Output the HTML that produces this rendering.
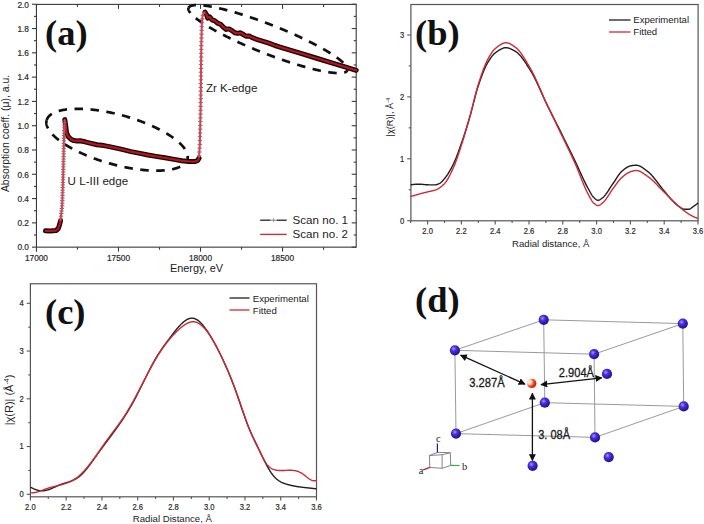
<!DOCTYPE html>
<html><head><meta charset="utf-8"><style>
html,body{margin:0;padding:0;background:#fff;width:704px;height:524px;overflow:hidden;font-family:"Liberation Sans",sans-serif}
svg{display:block}
</style></head><body>
<svg width="704" height="524" viewBox="0 0 704 524">
<rect width="704" height="524" fill="#fff"/>
<rect x="36.45" y="4.4" width="319.75" height="242.75" fill="none" stroke="#3a3a3a" stroke-width="1.1"/>
<line x1="31.95" y1="247.15" x2="36.45" y2="247.15" stroke="#3a3a3a" stroke-width="1.1" />
<line x1="351.7" y1="247.15" x2="356.2" y2="247.15" stroke="#3a3a3a" stroke-width="1.1" />
<text x="29" y="250.45" font-size="9.0" text-anchor="end" fill="#2a2a2a" font-family='"Liberation Sans", sans-serif' font-weight="normal" textLength="11.54" lengthAdjust="spacingAndGlyphs" stroke="#2a2a2a" stroke-width="0.2">0.0</text>
<line x1="33.95" y1="235" x2="36.45" y2="235" stroke="#3a3a3a" stroke-width="1.1" />
<line x1="353.7" y1="235" x2="356.2" y2="235" stroke="#3a3a3a" stroke-width="1.1" />
<line x1="31.95" y1="222.86" x2="36.45" y2="222.86" stroke="#3a3a3a" stroke-width="1.1" />
<line x1="351.7" y1="222.86" x2="356.2" y2="222.86" stroke="#3a3a3a" stroke-width="1.1" />
<text x="29" y="226.16" font-size="9.0" text-anchor="end" fill="#2a2a2a" font-family='"Liberation Sans", sans-serif' font-weight="normal" textLength="11.54" lengthAdjust="spacingAndGlyphs" stroke="#2a2a2a" stroke-width="0.2">0.2</text>
<line x1="33.95" y1="210.72" x2="36.45" y2="210.72" stroke="#3a3a3a" stroke-width="1.1" />
<line x1="353.7" y1="210.72" x2="356.2" y2="210.72" stroke="#3a3a3a" stroke-width="1.1" />
<line x1="31.95" y1="198.57" x2="36.45" y2="198.57" stroke="#3a3a3a" stroke-width="1.1" />
<line x1="351.7" y1="198.57" x2="356.2" y2="198.57" stroke="#3a3a3a" stroke-width="1.1" />
<text x="29" y="201.87" font-size="9.0" text-anchor="end" fill="#2a2a2a" font-family='"Liberation Sans", sans-serif' font-weight="normal" textLength="11.54" lengthAdjust="spacingAndGlyphs" stroke="#2a2a2a" stroke-width="0.2">0.4</text>
<line x1="33.95" y1="186.43" x2="36.45" y2="186.43" stroke="#3a3a3a" stroke-width="1.1" />
<line x1="353.7" y1="186.43" x2="356.2" y2="186.43" stroke="#3a3a3a" stroke-width="1.1" />
<line x1="31.95" y1="174.28" x2="36.45" y2="174.28" stroke="#3a3a3a" stroke-width="1.1" />
<line x1="351.7" y1="174.28" x2="356.2" y2="174.28" stroke="#3a3a3a" stroke-width="1.1" />
<text x="29" y="177.58" font-size="9.0" text-anchor="end" fill="#2a2a2a" font-family='"Liberation Sans", sans-serif' font-weight="normal" textLength="11.54" lengthAdjust="spacingAndGlyphs" stroke="#2a2a2a" stroke-width="0.2">0.6</text>
<line x1="33.95" y1="162.13" x2="36.45" y2="162.13" stroke="#3a3a3a" stroke-width="1.1" />
<line x1="353.7" y1="162.13" x2="356.2" y2="162.13" stroke="#3a3a3a" stroke-width="1.1" />
<line x1="31.95" y1="149.99" x2="36.45" y2="149.99" stroke="#3a3a3a" stroke-width="1.1" />
<line x1="351.7" y1="149.99" x2="356.2" y2="149.99" stroke="#3a3a3a" stroke-width="1.1" />
<text x="29" y="153.29" font-size="9.0" text-anchor="end" fill="#2a2a2a" font-family='"Liberation Sans", sans-serif' font-weight="normal" textLength="11.54" lengthAdjust="spacingAndGlyphs" stroke="#2a2a2a" stroke-width="0.2">0.8</text>
<line x1="33.95" y1="137.84" x2="36.45" y2="137.84" stroke="#3a3a3a" stroke-width="1.1" />
<line x1="353.7" y1="137.84" x2="356.2" y2="137.84" stroke="#3a3a3a" stroke-width="1.1" />
<line x1="31.95" y1="125.7" x2="36.45" y2="125.7" stroke="#3a3a3a" stroke-width="1.1" />
<line x1="351.7" y1="125.7" x2="356.2" y2="125.7" stroke="#3a3a3a" stroke-width="1.1" />
<text x="29" y="129" font-size="9.0" text-anchor="end" fill="#2a2a2a" font-family='"Liberation Sans", sans-serif' font-weight="normal" textLength="11.54" lengthAdjust="spacingAndGlyphs" stroke="#2a2a2a" stroke-width="0.2">1.0</text>
<line x1="33.95" y1="113.55" x2="36.45" y2="113.55" stroke="#3a3a3a" stroke-width="1.1" />
<line x1="353.7" y1="113.55" x2="356.2" y2="113.55" stroke="#3a3a3a" stroke-width="1.1" />
<line x1="31.95" y1="101.41" x2="36.45" y2="101.41" stroke="#3a3a3a" stroke-width="1.1" />
<line x1="351.7" y1="101.41" x2="356.2" y2="101.41" stroke="#3a3a3a" stroke-width="1.1" />
<text x="29" y="104.71" font-size="9.0" text-anchor="end" fill="#2a2a2a" font-family='"Liberation Sans", sans-serif' font-weight="normal" textLength="11.54" lengthAdjust="spacingAndGlyphs" stroke="#2a2a2a" stroke-width="0.2">1.2</text>
<line x1="33.95" y1="89.26" x2="36.45" y2="89.26" stroke="#3a3a3a" stroke-width="1.1" />
<line x1="353.7" y1="89.26" x2="356.2" y2="89.26" stroke="#3a3a3a" stroke-width="1.1" />
<line x1="31.95" y1="77.12" x2="36.45" y2="77.12" stroke="#3a3a3a" stroke-width="1.1" />
<line x1="351.7" y1="77.12" x2="356.2" y2="77.12" stroke="#3a3a3a" stroke-width="1.1" />
<text x="29" y="80.42" font-size="9.0" text-anchor="end" fill="#2a2a2a" font-family='"Liberation Sans", sans-serif' font-weight="normal" textLength="11.54" lengthAdjust="spacingAndGlyphs" stroke="#2a2a2a" stroke-width="0.2">1.4</text>
<line x1="33.95" y1="64.97" x2="36.45" y2="64.97" stroke="#3a3a3a" stroke-width="1.1" />
<line x1="353.7" y1="64.97" x2="356.2" y2="64.97" stroke="#3a3a3a" stroke-width="1.1" />
<line x1="31.95" y1="52.83" x2="36.45" y2="52.83" stroke="#3a3a3a" stroke-width="1.1" />
<line x1="351.7" y1="52.83" x2="356.2" y2="52.83" stroke="#3a3a3a" stroke-width="1.1" />
<text x="29" y="56.13" font-size="9.0" text-anchor="end" fill="#2a2a2a" font-family='"Liberation Sans", sans-serif' font-weight="normal" textLength="11.54" lengthAdjust="spacingAndGlyphs" stroke="#2a2a2a" stroke-width="0.2">1.6</text>
<line x1="33.95" y1="40.68" x2="36.45" y2="40.68" stroke="#3a3a3a" stroke-width="1.1" />
<line x1="353.7" y1="40.68" x2="356.2" y2="40.68" stroke="#3a3a3a" stroke-width="1.1" />
<line x1="31.95" y1="28.54" x2="36.45" y2="28.54" stroke="#3a3a3a" stroke-width="1.1" />
<line x1="351.7" y1="28.54" x2="356.2" y2="28.54" stroke="#3a3a3a" stroke-width="1.1" />
<text x="29" y="31.84" font-size="9.0" text-anchor="end" fill="#2a2a2a" font-family='"Liberation Sans", sans-serif' font-weight="normal" textLength="11.54" lengthAdjust="spacingAndGlyphs" stroke="#2a2a2a" stroke-width="0.2">1.8</text>
<line x1="33.95" y1="16.39" x2="36.45" y2="16.39" stroke="#3a3a3a" stroke-width="1.1" />
<line x1="353.7" y1="16.39" x2="356.2" y2="16.39" stroke="#3a3a3a" stroke-width="1.1" />
<line x1="31.95" y1="4.25" x2="36.45" y2="4.25" stroke="#3a3a3a" stroke-width="1.1" />
<line x1="351.7" y1="4.25" x2="356.2" y2="4.25" stroke="#3a3a3a" stroke-width="1.1" />
<text x="29" y="7.55" font-size="9.0" text-anchor="end" fill="#2a2a2a" font-family='"Liberation Sans", sans-serif' font-weight="normal" textLength="11.54" lengthAdjust="spacingAndGlyphs" stroke="#2a2a2a" stroke-width="0.2">2.0</text>
<line x1="36.45" y1="247.15" x2="36.45" y2="251.65" stroke="#3a3a3a" stroke-width="1.1" />
<line x1="36.45" y1="4.4" x2="36.45" y2="8.9" stroke="#3a3a3a" stroke-width="1.1" />
<text x="36.45" y="261" font-size="9.0" text-anchor="middle" fill="#2a2a2a" font-family='"Liberation Sans", sans-serif' font-weight="normal" textLength="23.07" lengthAdjust="spacingAndGlyphs" stroke="#2a2a2a" stroke-width="0.2">17000</text>
<line x1="77.47" y1="247.15" x2="77.47" y2="249.65" stroke="#3a3a3a" stroke-width="1.1" />
<line x1="77.47" y1="4.4" x2="77.47" y2="6.9" stroke="#3a3a3a" stroke-width="1.1" />
<line x1="118.48" y1="247.15" x2="118.48" y2="251.65" stroke="#3a3a3a" stroke-width="1.1" />
<line x1="118.48" y1="4.4" x2="118.48" y2="8.9" stroke="#3a3a3a" stroke-width="1.1" />
<text x="118.48" y="261" font-size="9.0" text-anchor="middle" fill="#2a2a2a" font-family='"Liberation Sans", sans-serif' font-weight="normal" textLength="23.07" lengthAdjust="spacingAndGlyphs" stroke="#2a2a2a" stroke-width="0.2">17500</text>
<line x1="159.5" y1="247.15" x2="159.5" y2="249.65" stroke="#3a3a3a" stroke-width="1.1" />
<line x1="159.5" y1="4.4" x2="159.5" y2="6.9" stroke="#3a3a3a" stroke-width="1.1" />
<line x1="200.51" y1="247.15" x2="200.51" y2="251.65" stroke="#3a3a3a" stroke-width="1.1" />
<line x1="200.51" y1="4.4" x2="200.51" y2="8.9" stroke="#3a3a3a" stroke-width="1.1" />
<text x="200.51" y="261" font-size="9.0" text-anchor="middle" fill="#2a2a2a" font-family='"Liberation Sans", sans-serif' font-weight="normal" textLength="23.07" lengthAdjust="spacingAndGlyphs" stroke="#2a2a2a" stroke-width="0.2">18000</text>
<line x1="241.53" y1="247.15" x2="241.53" y2="249.65" stroke="#3a3a3a" stroke-width="1.1" />
<line x1="241.53" y1="4.4" x2="241.53" y2="6.9" stroke="#3a3a3a" stroke-width="1.1" />
<line x1="282.54" y1="247.15" x2="282.54" y2="251.65" stroke="#3a3a3a" stroke-width="1.1" />
<line x1="282.54" y1="4.4" x2="282.54" y2="8.9" stroke="#3a3a3a" stroke-width="1.1" />
<text x="282.54" y="261" font-size="9.0" text-anchor="middle" fill="#2a2a2a" font-family='"Liberation Sans", sans-serif' font-weight="normal" textLength="23.07" lengthAdjust="spacingAndGlyphs" stroke="#2a2a2a" stroke-width="0.2">18500</text>
<line x1="323.56" y1="247.15" x2="323.56" y2="249.65" stroke="#3a3a3a" stroke-width="1.1" />
<line x1="323.56" y1="4.4" x2="323.56" y2="6.9" stroke="#3a3a3a" stroke-width="1.1" />
<text x="196.5" y="271.6" font-size="10.9" text-anchor="middle" fill="#222" font-family='"Liberation Sans", sans-serif' font-weight="normal" >Energy, eV</text>
<text transform="translate(9.2,133.5) rotate(-90)" x="0" y="0" font-size="10.45" text-anchor="middle" fill="#222" font-family='"Liberation Sans", sans-serif'>Absorption coeff. (&#956;), a.u.</text>
<polyline points="46.7,120.13 46.79,119.82 46.9,119.51 47.01,119.21 47.14,118.91 47.28,118.61 47.44,118.32 47.6,118.03 47.78,117.74 47.97,117.46 48.17,117.18 48.38,116.9 48.61,116.63 48.84,116.36 49.09,116.1 49.35,115.84 49.62,115.59 49.9,115.33 50.2,115.09 50.5,114.84 50.82,114.61 51.15,114.37 51.49,114.14 51.84,113.92 52.2,113.7 52.57,113.48 52.96,113.27 53.35,113.06 53.76,112.86 54.18,112.66 54.61,112.46 55.04,112.28 55.49,112.09 55.95,111.91 56.42,111.74 56.9,111.57 57.39,111.4 57.89,111.24 58.41,111.09 58.93,110.94 59.46,110.79 60,110.65 60.55,110.51 61.11,110.38 61.68,110.26 62.26,110.14 62.85,110.02 63.45,109.91 64.06,109.81 64.67,109.71 65.3,109.61 65.93,109.52 66.58,109.44 67.23,109.36 67.89,109.28 68.56,109.21 69.23,109.15 69.92,109.09 70.61,109.04 71.31,108.99 72.02,108.95 72.74,108.91 73.46,108.88 74.2,108.85 74.94,108.83 75.68,108.81 76.44,108.8 77.2,108.79 77.96,108.79 78.74,108.8 79.52,108.81 80.31,108.82 81.1,108.84 81.9,108.87 82.7,108.9 83.52,108.94 84.33,108.98 85.16,109.03 85.98,109.08 86.82,109.14 87.66,109.2 88.5,109.27 89.35,109.34 90.2,109.42 91.06,109.5 91.92,109.59 92.79,109.69 93.66,109.79 94.54,109.89 95.42,110 96.3,110.11 97.18,110.23 98.07,110.36 98.97,110.49 99.86,110.62 100.76,110.76 101.66,110.91 102.57,111.06 103.47,111.21 104.38,111.37 105.3,111.53 106.21,111.7 107.12,111.88 108.04,112.06 108.96,112.24 109.88,112.43 110.8,112.62 111.72,112.82 112.65,113.02 113.57,113.23 114.49,113.44 115.42,113.65 116.34,113.87 117.27,114.1 118.19,114.33 119.12,114.56 120.04,114.8 120.97,115.04 121.89,115.29 122.81,115.54 123.74,115.79 124.66,116.05 125.58,116.31 126.49,116.58 127.41,116.85 128.32,117.12 129.24,117.4 130.15,117.68 131.06,117.97 131.96,118.26 132.86,118.55 133.76,118.85 134.66,119.15 135.56,119.46 136.45,119.76 137.34,120.07 138.22,120.39 139.1,120.71 139.98,121.03 140.85,121.35 141.72,121.68 142.59,122.01 143.45,122.34 144.3,122.68 145.16,123.02 146,123.36 146.84,123.7 147.68,124.05 148.51,124.4 149.34,124.76 150.16,125.11 150.97,125.47 151.78,125.83 152.59,126.19 153.38,126.56 154.17,126.93 154.96,127.3 155.74,127.67 156.51,128.04 157.27,128.42 158.03,128.8 158.78,129.18 159.52,129.56 160.26,129.94 160.99,130.33 161.71,130.71 162.42,131.1 163.13,131.49 163.83,131.88 164.52,132.27 165.2,132.67 165.87,133.06 166.54,133.46 167.19,133.85 167.84,134.25 168.48,134.65 169.11,135.05 169.73,135.45 170.35,135.85 170.95,136.26 171.54,136.66 172.13,137.06 172.71,137.47 173.27,137.87 173.83,138.27 174.37,138.68 174.91,139.08 175.44,139.49 175.95,139.89 176.46,140.3 176.96,140.7 177.44,141.11 177.92,141.51 178.39,141.92 178.84,142.32 179.29,142.72 179.72,143.13 180.14,143.53 180.56,143.93 180.96,144.33 181.35,144.73 181.73,145.13 182.1,145.53 182.45,145.93 182.8,146.32 183.13,146.72 183.46,147.11 183.77,147.5 184.07,147.89 184.36,148.28 184.64,148.67 184.9,149.06 185.16,149.44 185.4,149.83 185.63,150.21 185.85,150.59 186.06,150.97 186.25,151.35 186.44,151.72 186.61,152.09 186.77,152.46 186.92,152.83 187.05,153.2 187.18,153.56 187.29,153.92 187.39,154.28 187.48,154.63 187.56,154.99 187.62,155.34 187.67,155.69 187.71,156.03 187.74,156.38 187.75,156.72 187.76,157.05 187.75,157.39 187.73,157.72 187.7,158.05 187.65,158.37 187.59,158.69 187.52,159.01 187.44,159.33" fill="none" stroke="#111" stroke-width="2.7" stroke-dasharray="8.5 7.5" stroke-dashoffset="0.25"/>
<polyline points="187.44,159.33 187.35,159.64 187.24,159.95 187.13,160.25 187,160.55 186.86,160.85 186.7,161.14 186.54,161.43 186.36,161.72 186.17,162 185.97,162.28 185.76,162.56 185.53,162.83 185.3,163.1 185.05,163.36 184.79,163.62 184.52,163.87 184.24,164.13 183.94,164.37 183.64,164.62 183.32,164.85 182.99,165.09 182.65,165.32 182.3,165.54 181.94,165.76 181.57,165.98 181.18,166.19 180.79,166.4 180.38,166.6 179.96,166.8 179.53,167 179.1,167.18 178.65,167.37 178.19,167.55 177.72,167.72 177.24,167.89 176.75,168.06 176.25,168.22 175.73,168.37 175.21,168.52 174.68,168.67 174.14,168.81 173.59,168.95 173.03,169.08 172.46,169.2 171.88,169.32 171.29,169.44 170.69,169.55 170.08,169.65 169.47,169.75 168.84,169.85 168.21,169.94 167.56,170.02 166.91,170.1 166.25,170.18 165.58,170.25 164.91,170.31 164.22,170.37 163.53,170.42 162.83,170.47 162.12,170.51 161.4,170.55 160.68,170.58 159.94,170.61 159.2,170.63 158.46,170.65 157.7,170.66 156.94,170.67 156.18,170.67 155.4,170.66 154.62,170.65 153.83,170.64 153.04,170.62 152.24,170.59 151.44,170.56 150.62,170.52 149.81,170.48 148.98,170.43 148.16,170.38 147.32,170.32 146.48,170.26 145.64,170.19 144.79,170.12 143.94,170.04 143.08,169.96 142.22,169.87 141.35,169.77 140.48,169.67 139.6,169.57 138.72,169.46 137.84,169.35 136.96,169.23 136.07,169.1 135.17,168.97 134.28,168.84 133.38,168.7 132.48,168.55 131.57,168.4 130.67,168.25 129.76,168.09 128.84,167.93 127.93,167.76 127.02,167.58 126.1,167.4 125.18,167.22 124.26,167.03 123.34,166.84 122.42,166.64 121.49,166.44 120.57,166.23 119.65,166.02 118.72,165.81 117.8,165.59 116.87,165.36 115.95,165.13 115.02,164.9 114.1,164.66 113.17,164.42 112.25,164.17 111.33,163.92 110.4,163.67 109.48,163.41 108.56,163.15 107.65,162.88 106.73,162.61 105.82,162.34 104.9,162.06 103.99,161.78 103.08,161.49 102.18,161.2 101.28,160.91 100.38,160.61 99.48,160.31 98.58,160 97.69,159.7 96.8,159.39 95.92,159.07 95.04,158.75 94.16,158.43 93.29,158.11 92.42,157.78 91.55,157.45 90.69,157.12 89.84,156.78 88.98,156.44 88.14,156.1 87.3,155.76 86.46,155.41 85.63,155.06 84.8,154.7 83.98,154.35 83.17,153.99 82.36,153.63 81.55,153.27 80.76,152.9 79.97,152.53 79.18,152.16 78.4,151.79 77.63,151.42 76.87,151.04 76.11,150.66 75.36,150.28 74.62,149.9 73.88,149.52 73.15,149.13 72.43,148.75 71.72,148.36 71.01,147.97 70.31,147.58 69.62,147.19 68.94,146.79 68.27,146.4 67.6,146 66.95,145.61 66.3,145.21 65.66,144.81 65.03,144.41 64.41,144.01 63.79,143.61 63.19,143.2 62.6,142.8 62.01,142.4 61.43,141.99 60.87,141.59 60.31,141.19 59.77,140.78 59.23,140.38 58.7,139.97 58.19,139.57 57.68,139.16 57.18,138.76 56.7,138.35 56.22,137.95 55.75,137.54 55.3,137.14 54.85,136.74 54.42,136.33 54,135.93 53.58,135.53 53.18,135.13 52.79,134.73 52.41,134.33 52.04,133.93 51.69,133.53 51.34,133.14 51.01,132.74 50.68,132.35 50.37,131.96 50.07,131.57 49.78,131.18 49.5,130.79 49.24,130.4 48.98,130.02 48.74,129.63 48.51,129.25 48.29,128.87 48.08,128.49 47.89,128.11 47.7,127.74 47.53,127.37 47.37,127 47.22,126.63 47.09,126.26 46.96,125.9 46.85,125.54 46.75,125.18 46.66,124.83 46.58,124.47 46.52,124.12 46.47,123.77 46.43,123.43 46.4,123.08 46.39,122.74 46.38,122.41 46.39,122.07 46.41,121.74 46.44,121.41 46.49,121.09 46.55,120.77 46.62,120.45 46.7,120.13" fill="none" stroke="#111" stroke-width="2.7" stroke-dasharray="8.5 7.5" stroke-dashoffset="5.34"/>
<polyline points="188.58,7.84 188.66,7.66 188.75,7.5 188.85,7.33 188.97,7.18 189.1,7.02 189.24,6.88 189.4,6.74 189.57,6.6 189.75,6.47 189.95,6.35 190.16,6.23 190.39,6.12 190.62,6.01 190.88,5.91 191.14,5.81 191.42,5.72 191.71,5.64 192.01,5.56 192.33,5.49 192.66,5.42 193,5.36 193.35,5.3 193.72,5.25 194.1,5.21 194.5,5.17 194.9,5.14 195.32,5.11 195.75,5.09 196.19,5.08 196.65,5.07 197.12,5.06 197.6,5.07 198.09,5.08 198.59,5.09 199.11,5.11 199.64,5.14 200.18,5.17 200.73,5.2 201.29,5.25 201.86,5.3 202.45,5.35 203.05,5.41 203.65,5.48 204.27,5.55 204.9,5.63 205.54,5.71 206.19,5.8 206.85,5.9 207.53,6 208.21,6.11 208.9,6.22 209.6,6.33 210.32,6.46 211.04,6.59 211.77,6.72 212.51,6.86 213.27,7.01 214.03,7.16 214.8,7.32 215.58,7.48 216.36,7.64 217.16,7.82 217.97,8 218.78,8.18 219.6,8.37 220.44,8.56 221.27,8.76 222.12,8.97 222.98,9.18 223.84,9.39 224.71,9.61 225.59,9.84 226.47,10.07 227.36,10.3 228.26,10.54 229.17,10.78 230.08,11.03 231,11.29 231.93,11.55 232.86,11.81 233.8,12.08 234.74,12.35 235.69,12.63 236.64,12.91 237.6,13.2 238.57,13.49 239.54,13.79 240.51,14.09 241.49,14.39 242.48,14.7 243.47,15.01 244.46,15.33 245.46,15.65 246.46,15.97 247.46,16.3 248.47,16.64 249.48,16.97 250.49,17.31 251.51,17.66 252.53,18 253.55,18.36 254.58,18.71 255.61,19.07 256.64,19.43 257.67,19.8 258.7,20.17 259.74,20.54 260.77,20.91 261.81,21.29 262.85,21.67 263.89,22.06 264.93,22.44 265.97,22.83 267.01,23.22 268.05,23.62 269.1,24.02 270.14,24.42 271.18,24.82 272.22,25.23 273.26,25.64 274.3,26.05 275.33,26.46 276.37,26.87 277.4,27.29 278.44,27.71 279.47,28.13 280.5,28.55 281.53,28.98 282.55,29.4 283.57,29.83 284.59,30.26 285.61,30.69 286.62,31.12 287.63,31.56 288.64,31.99 289.65,32.43 290.65,32.86 291.64,33.3 292.63,33.74 293.62,34.18 294.61,34.62 295.58,35.07 296.56,35.51 297.53,35.95 298.49,36.4 299.45,36.84 300.4,37.28 301.35,37.73 302.29,38.17 303.23,38.62 304.16,39.06 305.09,39.51 306,39.96 306.91,40.4 307.82,40.85 308.72,41.29 309.61,41.73 310.49,42.18 311.37,42.62 312.24,43.06 313.1,43.51 313.95,43.95 314.8,44.39 315.64,44.83 316.47,45.27 317.29,45.7 318.1,46.14 318.9,46.57 319.7,47.01 320.49,47.44 321.26,47.87 322.03,48.3 322.79,48.73 323.54,49.16 324.28,49.58 325.01,50 325.73,50.42 326.44,50.84 327.14,51.26 327.84,51.67 328.52,52.09 329.19,52.5 329.85,52.91 330.49,53.31 331.13,53.72 331.76,54.12 332.38,54.51 332.98,54.91 333.58,55.3 334.16,55.69 334.73,56.08 335.29,56.47 335.84,56.85 336.38,57.23 336.9,57.6 337.42,57.97 337.92,58.34 338.41,58.71 338.89,59.07 339.35,59.43 339.81,59.78 340.25,60.14 340.68,60.48 341.09,60.83 341.5,61.17 341.89,61.51 342.27,61.84 342.63,62.17 342.98,62.49 343.32,62.81 343.65,63.13 343.97,63.44 344.27,63.75 344.55,64.06 344.83,64.36 345.09,64.66 345.34,64.95 345.58,65.23 345.8,65.52 346.01,65.8 346.2,66.07 346.38,66.34 346.55,66.6 346.71,66.86 346.85,67.12 346.98,67.37 347.09,67.61 347.19,67.85 347.28,68.09 347.35,68.32 347.41,68.54 347.46,68.76 347.49,68.98 347.51,69.19 347.52,69.4 347.51,69.6 347.49,69.79 347.45,69.98 347.4,70.16 347.34,70.34" fill="none" stroke="#111" stroke-width="2.7" stroke-dasharray="8.5 7.5" stroke-dashoffset="0.29"/>
<polyline points="347.34,70.34 347.26,70.52 347.17,70.68 347.07,70.85 346.95,71 346.82,71.16 346.68,71.3 346.52,71.44 346.35,71.58 346.17,71.71 345.97,71.83 345.76,71.95 345.53,72.06 345.3,72.17 345.04,72.27 344.78,72.37 344.5,72.46 344.21,72.54 343.91,72.62 343.59,72.69 343.26,72.76 342.92,72.82 342.57,72.88 342.2,72.93 341.82,72.97 341.42,73.01 341.02,73.04 340.6,73.07 340.17,73.09 339.73,73.1 339.27,73.11 338.8,73.12 338.32,73.11 337.83,73.1 337.33,73.09 336.81,73.07 336.28,73.04 335.74,73.01 335.19,72.98 334.63,72.93 334.06,72.88 333.47,72.83 332.87,72.77 332.27,72.7 331.65,72.63 331.02,72.55 330.38,72.47 329.73,72.38 329.07,72.28 328.39,72.18 327.71,72.07 327.02,71.96 326.32,71.85 325.6,71.72 324.88,71.59 324.15,71.46 323.41,71.32 322.65,71.17 321.89,71.02 321.12,70.86 320.34,70.7 319.56,70.54 318.76,70.36 317.95,70.18 317.14,70 316.32,69.81 315.48,69.62 314.65,69.42 313.8,69.21 312.94,69 312.08,68.79 311.21,68.57 310.33,68.34 309.45,68.11 308.56,67.88 307.66,67.64 306.75,67.4 305.84,67.15 304.92,66.89 303.99,66.63 303.06,66.37 302.12,66.1 301.18,65.83 300.23,65.55 299.28,65.27 298.32,64.98 297.35,64.69 296.38,64.39 295.41,64.09 294.43,63.79 293.44,63.48 292.45,63.17 291.46,62.85 290.46,62.53 289.46,62.21 288.46,61.88 287.45,61.54 286.44,61.21 285.43,60.87 284.41,60.52 283.39,60.18 282.37,59.82 281.34,59.47 280.31,59.11 279.28,58.75 278.25,58.38 277.22,58.01 276.18,57.64 275.15,57.27 274.11,56.89 273.07,56.51 272.03,56.12 270.99,55.74 269.95,55.35 268.91,54.96 267.87,54.56 266.82,54.16 265.78,53.76 264.74,53.36 263.7,52.95 262.66,52.54 261.62,52.13 260.59,51.72 259.55,51.31 258.52,50.89 257.48,50.47 256.45,50.05 255.42,49.63 254.39,49.2 253.37,48.78 252.35,48.35 251.33,47.92 250.31,47.49 249.3,47.06 248.29,46.62 247.28,46.19 246.27,45.75 245.27,45.32 244.28,44.88 243.29,44.44 242.3,44 241.31,43.56 240.34,43.11 239.36,42.67 238.39,42.23 237.43,41.78 236.47,41.34 235.52,40.9 234.57,40.45 233.63,40.01 232.69,39.56 231.76,39.12 230.83,38.67 229.92,38.22 229.01,37.78 228.1,37.33 227.2,36.89 226.31,36.45 225.43,36 224.55,35.56 223.68,35.12 222.82,34.67 221.97,34.23 221.12,33.79 220.28,33.35 219.45,32.91 218.63,32.48 217.82,32.04 217.02,31.61 216.22,31.17 215.43,30.74 214.66,30.31 213.89,29.88 213.13,29.45 212.38,29.02 211.64,28.6 210.91,28.18 210.19,27.76 209.48,27.34 208.78,26.92 208.08,26.51 207.4,26.09 206.73,25.68 206.07,25.27 205.43,24.87 204.79,24.46 204.16,24.06 203.54,23.67 202.94,23.27 202.34,22.88 201.76,22.49 201.19,22.1 200.63,21.71 200.08,21.33 199.54,20.95 199.02,20.58 198.5,20.21 198,19.84 197.51,19.47 197.03,19.11 196.57,18.75 196.11,18.4 195.67,18.04 195.24,17.7 194.83,17.35 194.42,17.01 194.03,16.67 193.65,16.34 193.29,16.01 192.94,15.69 192.6,15.37 192.27,15.05 191.95,14.74 191.65,14.43 191.37,14.12 191.09,13.82 190.83,13.52 190.58,13.23 190.34,12.95 190.12,12.66 189.91,12.38 189.72,12.11 189.54,11.84 189.37,11.58 189.21,11.32 189.07,11.06 188.94,10.81 188.83,10.57 188.73,10.33 188.64,10.09 188.57,9.86 188.51,9.64 188.46,9.42 188.43,9.2 188.41,8.99 188.4,8.78 188.41,8.58 188.43,8.39 188.47,8.2 188.52,8.02 188.58,7.84" fill="none" stroke="#111" stroke-width="2.7" stroke-dasharray="8.5 7.5" stroke-dashoffset="4.48"/>
<polyline points="45.5,230.8 50,230.9 56,230.5 58.3,228.5 59.6,224.5 60.5,221" fill="none" stroke="#150404" stroke-width="5.0" stroke-linejoin="round" stroke-linecap="round"/>
<polyline points="64.8,119.6 65.6,125 66.5,132.5 68,136.2 71,139.4 74,140.6 77,141 80,140.7 85,141.8 90,143.1 97,144.8 104,145.6 108,146.4 114,147.6 122,149.4 131,151.6 140,153.4 148,155 156,156.4 165,157.8 174,159.4 182,160.8 189,161.4 194.5,161.6 197.5,160.6 199,158.3" fill="none" stroke="#150404" stroke-width="5.0" stroke-linejoin="round" stroke-linecap="round"/>
<polyline points="205,12.2 206.4,14.3 207.7,18.1 209.8,16.9 212,19.8 214.9,20.9 217.7,23.2 220.6,24.3 223.4,27.2 226.3,29.4 229.1,28.9 231.9,30.6 234.8,32.8 237.6,33.4 240.5,32.8 243.3,34.5 246.1,36.25 249,35.9 251.8,37.4 257.5,39.7 263.2,41.4 268.9,43.1 275,45.5 280,47.1 290,50.1 300,53.2 317.5,58.5 330,62.3 345,66.8 356.2,70.3" fill="none" stroke="#150404" stroke-width="5.0" stroke-linejoin="round" stroke-linecap="round"/>
<polyline points="45.5,230.8 50,230.9 56,230.5 58.3,228.5 59.6,224.5 60.5,221" fill="none" stroke="#b3141f" stroke-width="2.3" stroke-linejoin="round" stroke-linecap="round"/>
<polyline points="64.8,119.6 65.6,125 66.5,132.5 68,136.2 71,139.4 74,140.6 77,141 80,140.7 85,141.8 90,143.1 97,144.8 104,145.6 108,146.4 114,147.6 122,149.4 131,151.6 140,153.4 148,155 156,156.4 165,157.8 174,159.4 182,160.8 189,161.4 194.5,161.6 197.5,160.6 199,158.3" fill="none" stroke="#b3141f" stroke-width="2.3" stroke-linejoin="round" stroke-linecap="round"/>
<polyline points="205,12.2 206.4,14.3 207.7,18.1 209.8,16.9 212,19.8 214.9,20.9 217.7,23.2 220.6,24.3 223.4,27.2 226.3,29.4 229.1,28.9 231.9,30.6 234.8,32.8 237.6,33.4 240.5,32.8 243.3,34.5 246.1,36.25 249,35.9 251.8,37.4 257.5,39.7 263.2,41.4 268.9,43.1 275,45.5 280,47.1 290,50.1 300,53.2 317.5,58.5 330,62.3 345,66.8 356.2,70.3" fill="none" stroke="#b3141f" stroke-width="2.3" stroke-linejoin="round" stroke-linecap="round"/>
<path d="M62.28,122.6h4.4M62.18,125.2h4.4M62.08,127.8h4.4M61.98,130.4h4.4M61.88,133h4.4M61.79,135.6h4.4M61.74,138.2h4.4M61.68,140.8h4.4M61.63,143.4h4.4M61.58,146h4.4M61.53,148.6h4.4M61.48,151.2h4.4M61.42,153.8h4.4M61.37,156.4h4.4M61.32,159h4.4M61.27,161.6h4.4M61.22,164.2h4.4M61.16,166.8h4.4M61.11,169.4h4.4M61.04,172h4.4M60.96,174.6h4.4M60.87,177.2h4.4M60.79,179.8h4.4M60.71,182.4h4.4M60.63,185h4.4M60.55,187.6h4.4M60.47,190.2h4.4M60.38,192.8h4.4M60.3,195.4h4.4M60.22,198h4.4M60.14,200.6h4.4M60.06,203.2h4.4M59.92,205.8h4.4M59.64,208.4h4.4M59.36,211h4.4M59.09,213.6h4.4M58.81,216.2h4.4M58.53,218.8h4.4" stroke="#6a5a5c" stroke-width="0.9" fill="none"/>
<polyline points="60.5,221 62.2,205 63.3,170 64,135 64.5,122 64.8,119.6" fill="none" stroke="#cf4658" stroke-width="2.1" stroke-linejoin="round"/>
<path d="M200.65,15.2h4.4M200.13,19h4.4M199.8,22.8h4.4M199.56,26.6h4.4M199.47,30.4h4.4M199.37,34.2h4.4M199.28,38h4.4M199.18,41.8h4.4M199.09,45.6h4.4M199.05,49.4h4.4M199,53.2h4.4M198.96,57h4.4M198.91,60.8h4.4M198.86,64.6h4.4M198.82,68.4h4.4M198.78,72.2h4.4M198.74,76h4.4M198.7,79.8h4.4M198.66,83.6h4.4M198.63,87.4h4.4M198.59,91.2h4.4M198.55,95h4.4M198.51,98.8h4.4M198.47,102.6h4.4M198.44,106.4h4.4M198.4,110.2h4.4M198.31,114h4.4M198.22,117.8h4.4M198.13,121.6h4.4M198.05,125.4h4.4M197.96,129.2h4.4M197.87,133h4.4M197.79,136.8h4.4M197.7,140.6h4.4M197.61,144.4h4.4M197.4,148.2h4.4M197.15,152h4.4M196.91,155.8h4.4" stroke="#6a5a5c" stroke-width="0.9" fill="none"/>
<polyline points="199,157.5 199.8,145 200.6,110 201,70 201.3,45 201.8,25 202.6,16 203.6,12.8 205,12.2" fill="none" stroke="#cf4658" stroke-width="2.1" stroke-linejoin="round"/>
<text x="67.6" y="185.3" font-size="11.6" text-anchor="start" fill="#222" font-family='"Liberation Sans", sans-serif' font-weight="normal" >U L-III edge</text>
<text x="205.9" y="92" font-size="11.6" text-anchor="start" fill="#222" font-family='"Liberation Sans", sans-serif' font-weight="normal" >Zr K-edge</text>
<line x1="260.2" y1="220.2" x2="270.5" y2="220.2" stroke="#222" stroke-width="1.3" />
<line x1="276.5" y1="220.2" x2="286.7" y2="220.2" stroke="#222" stroke-width="1.3" />
<line x1="271" y1="220.2" x2="276" y2="220.2" stroke="#555" stroke-width="0.8" />
<line x1="273.5" y1="218.2" x2="273.5" y2="222.2" stroke="#888" stroke-width="0.8" />
<line x1="260.2" y1="234.4" x2="286.7" y2="234.4" stroke="#c8303c" stroke-width="1.4" />
<text x="292.6" y="223.8" font-size="11.6" text-anchor="start" fill="#222" font-family='"Liberation Sans", sans-serif' font-weight="normal" >Scan no. 1</text>
<text x="292.6" y="238.1" font-size="11.6" text-anchor="start" fill="#222" font-family='"Liberation Sans", sans-serif' font-weight="normal" >Scan no. 2</text>
<text x="45" y="44.9" font-size="36.5" text-anchor="start" fill="#111" font-family='"Liberation Serif", serif' font-weight="bold" >(a)</text>
<rect x="410.9" y="4.5" width="287.20000000000005" height="216.3" fill="none" stroke="#555" stroke-width="1.2"/>
<line x1="407.2" y1="220.7" x2="410.9" y2="220.7" stroke="#555" stroke-width="1.1" />
<text x="402" y="223.6" font-size="8.3" text-anchor="middle" fill="#2a2a2a" font-family='"Liberation Sans", sans-serif' font-weight="normal" textLength="4.23" lengthAdjust="spacingAndGlyphs" stroke="#2a2a2a" stroke-width="0.2">0</text>
<line x1="408.7" y1="189.75" x2="410.9" y2="189.75" stroke="#555" stroke-width="1.1" />
<line x1="407.2" y1="158.8" x2="410.9" y2="158.8" stroke="#555" stroke-width="1.1" />
<text x="402" y="161.7" font-size="8.3" text-anchor="middle" fill="#2a2a2a" font-family='"Liberation Sans", sans-serif' font-weight="normal" textLength="4.23" lengthAdjust="spacingAndGlyphs" stroke="#2a2a2a" stroke-width="0.2">1</text>
<line x1="408.7" y1="127.85" x2="410.9" y2="127.85" stroke="#555" stroke-width="1.1" />
<line x1="407.2" y1="96.9" x2="410.9" y2="96.9" stroke="#555" stroke-width="1.1" />
<text x="402" y="99.8" font-size="8.3" text-anchor="middle" fill="#2a2a2a" font-family='"Liberation Sans", sans-serif' font-weight="normal" textLength="4.23" lengthAdjust="spacingAndGlyphs" stroke="#2a2a2a" stroke-width="0.2">2</text>
<line x1="408.7" y1="65.95" x2="410.9" y2="65.95" stroke="#555" stroke-width="1.1" />
<line x1="407.2" y1="35" x2="410.9" y2="35" stroke="#555" stroke-width="1.1" />
<text x="402" y="37.9" font-size="8.3" text-anchor="middle" fill="#2a2a2a" font-family='"Liberation Sans", sans-serif' font-weight="normal" textLength="4.23" lengthAdjust="spacingAndGlyphs" stroke="#2a2a2a" stroke-width="0.2">3</text>
<line x1="410.7" y1="220.8" x2="410.7" y2="223" stroke="#555" stroke-width="1.1" />
<line x1="427.6" y1="220.8" x2="427.6" y2="224.5" stroke="#555" stroke-width="1.1" />
<text x="427.6" y="234" font-size="8.3" text-anchor="middle" fill="#2a2a2a" font-family='"Liberation Sans", sans-serif' font-weight="normal" textLength="10.56" lengthAdjust="spacingAndGlyphs" stroke="#2a2a2a" stroke-width="0.2">2.0</text>
<line x1="444.5" y1="220.8" x2="444.5" y2="223" stroke="#555" stroke-width="1.1" />
<line x1="461.4" y1="220.8" x2="461.4" y2="224.5" stroke="#555" stroke-width="1.1" />
<text x="461.4" y="234" font-size="8.3" text-anchor="middle" fill="#2a2a2a" font-family='"Liberation Sans", sans-serif' font-weight="normal" textLength="10.56" lengthAdjust="spacingAndGlyphs" stroke="#2a2a2a" stroke-width="0.2">2.2</text>
<line x1="478.3" y1="220.8" x2="478.3" y2="223" stroke="#555" stroke-width="1.1" />
<line x1="495.2" y1="220.8" x2="495.2" y2="224.5" stroke="#555" stroke-width="1.1" />
<text x="495.2" y="234" font-size="8.3" text-anchor="middle" fill="#2a2a2a" font-family='"Liberation Sans", sans-serif' font-weight="normal" textLength="10.56" lengthAdjust="spacingAndGlyphs" stroke="#2a2a2a" stroke-width="0.2">2.4</text>
<line x1="512.1" y1="220.8" x2="512.1" y2="223" stroke="#555" stroke-width="1.1" />
<line x1="529" y1="220.8" x2="529" y2="224.5" stroke="#555" stroke-width="1.1" />
<text x="529" y="234" font-size="8.3" text-anchor="middle" fill="#2a2a2a" font-family='"Liberation Sans", sans-serif' font-weight="normal" textLength="10.56" lengthAdjust="spacingAndGlyphs" stroke="#2a2a2a" stroke-width="0.2">2.6</text>
<line x1="545.9" y1="220.8" x2="545.9" y2="223" stroke="#555" stroke-width="1.1" />
<line x1="562.8" y1="220.8" x2="562.8" y2="224.5" stroke="#555" stroke-width="1.1" />
<text x="562.8" y="234" font-size="8.3" text-anchor="middle" fill="#2a2a2a" font-family='"Liberation Sans", sans-serif' font-weight="normal" textLength="10.56" lengthAdjust="spacingAndGlyphs" stroke="#2a2a2a" stroke-width="0.2">2.8</text>
<line x1="579.7" y1="220.8" x2="579.7" y2="223" stroke="#555" stroke-width="1.1" />
<line x1="596.6" y1="220.8" x2="596.6" y2="224.5" stroke="#555" stroke-width="1.1" />
<text x="596.6" y="234" font-size="8.3" text-anchor="middle" fill="#2a2a2a" font-family='"Liberation Sans", sans-serif' font-weight="normal" textLength="10.56" lengthAdjust="spacingAndGlyphs" stroke="#2a2a2a" stroke-width="0.2">3.0</text>
<line x1="613.5" y1="220.8" x2="613.5" y2="223" stroke="#555" stroke-width="1.1" />
<line x1="630.4" y1="220.8" x2="630.4" y2="224.5" stroke="#555" stroke-width="1.1" />
<text x="630.4" y="234" font-size="8.3" text-anchor="middle" fill="#2a2a2a" font-family='"Liberation Sans", sans-serif' font-weight="normal" textLength="10.56" lengthAdjust="spacingAndGlyphs" stroke="#2a2a2a" stroke-width="0.2">3.2</text>
<line x1="647.3" y1="220.8" x2="647.3" y2="223" stroke="#555" stroke-width="1.1" />
<line x1="664.2" y1="220.8" x2="664.2" y2="224.5" stroke="#555" stroke-width="1.1" />
<text x="664.2" y="234" font-size="8.3" text-anchor="middle" fill="#2a2a2a" font-family='"Liberation Sans", sans-serif' font-weight="normal" textLength="10.56" lengthAdjust="spacingAndGlyphs" stroke="#2a2a2a" stroke-width="0.2">3.4</text>
<line x1="681.1" y1="220.8" x2="681.1" y2="223" stroke="#555" stroke-width="1.1" />
<line x1="698" y1="220.8" x2="698" y2="224.5" stroke="#555" stroke-width="1.1" />
<text x="698" y="234" font-size="8.3" text-anchor="middle" fill="#2a2a2a" font-family='"Liberation Sans", sans-serif' font-weight="normal" textLength="10.56" lengthAdjust="spacingAndGlyphs" stroke="#2a2a2a" stroke-width="0.2">3.6</text>
<text x="550.7" y="246.6" font-size="9.6" text-anchor="middle" fill="#222" font-family='"Liberation Sans", sans-serif' font-weight="normal" >Radial distance, &#197;</text>
<text transform="translate(393.2,117) rotate(-90)" x="0" y="0" font-size="9.2" text-anchor="middle" fill="#222" font-family='"Liberation Sans", sans-serif'>|&#967;(R)|, &#197;<tspan dy="-3.5" font-size="6">-4</tspan></text>
<polyline points="410.7,184.8 411.2,184.73 411.7,184.66 412.2,184.6 412.7,184.54 413.2,184.49 413.7,184.44 414.2,184.39 414.7,184.35 415.2,184.31 415.7,184.28 416.2,184.25 416.7,184.23 417.2,184.21 417.7,184.2 418.19,184.19 418.69,184.18 419.19,184.18 419.69,184.19 420.19,184.2 420.69,184.23 421.19,184.26 421.69,184.3 422.19,184.34 422.69,184.39 423.19,184.44 423.69,184.49 424.19,184.54 424.69,184.59 425.19,184.64 425.69,184.68 426.19,184.72 426.69,184.76 427.19,184.78 427.69,184.8 428.19,184.81 428.69,184.83 429.19,184.84 429.69,184.85 430.19,184.87 430.69,184.88 431.19,184.89 431.69,184.9 432.19,184.91 432.68,184.91 433.18,184.92 433.68,184.92 434.18,184.92 434.68,184.91 435.18,184.87 435.68,184.8 436.18,184.7 436.68,184.57 437.18,184.42 437.68,184.25 438.18,184.07 438.68,183.87 439.18,183.66 439.68,183.44 440.18,183.15 440.68,182.78 441.18,182.35 441.68,181.87 442.18,181.34 442.68,180.78 443.18,180.2 443.68,179.6 444.18,179 444.68,178.4 445.18,177.78 445.68,177.13 446.18,176.46 446.67,175.76 447.17,175.03 447.67,174.29 448.17,173.51 448.67,172.71 449.17,171.89 449.67,171.05 450.17,170.18 450.67,169.3 451.17,168.39 451.67,167.46 452.17,166.51 452.67,165.54 453.17,164.55 453.67,163.51 454.17,162.42 454.67,161.29 455.17,160.12 455.67,158.91 456.17,157.66 456.67,156.38 457.17,155.07 457.67,153.74 458.17,152.38 458.67,151.01 459.17,149.62 459.67,148.22 460.17,146.82 460.67,145.4 461.16,143.99 461.66,142.57 462.16,141.14 462.66,139.68 463.16,138.2 463.66,136.69 464.16,135.17 464.66,133.63 465.16,132.07 465.66,130.49 466.16,128.9 466.66,127.29 467.16,125.66 467.66,124.03 468.16,122.38 468.66,120.71 469.16,119.04 469.66,117.35 470.16,115.65 470.66,113.88 471.16,112.05 471.66,110.18 472.16,108.27 472.66,106.33 473.16,104.38 473.66,102.42 474.16,100.46 474.66,98.52 475.16,96.6 475.65,94.72 476.15,92.88 476.65,91.1 477.15,89.39 477.65,87.75 478.15,86.2 478.65,84.72 479.15,83.26 479.65,81.81 480.15,80.38 480.65,78.97 481.15,77.59 481.65,76.23 482.15,74.9 482.65,73.59 483.15,72.32 483.65,71.09 484.15,69.89 484.65,68.73 485.15,67.62 485.65,66.55 486.15,65.53 486.65,64.55 487.15,63.63 487.65,62.77 488.15,61.93 488.65,61.11 489.15,60.31 489.65,59.53 490.14,58.77 490.64,58.04 491.14,57.34 491.64,56.66 492.14,56.02 492.64,55.41 493.14,54.85 493.64,54.32 494.14,53.83 494.64,53.39 495.14,52.99 495.64,52.63 496.14,52.27 496.64,51.91 497.14,51.55 497.64,51.2 498.14,50.86 498.64,50.53 499.14,50.21 499.64,49.9 500.14,49.6 500.64,49.32 501.14,49.06 501.64,48.81 502.14,48.59 502.64,48.38 503.14,48.2 503.64,48.04 504.13,47.91 504.63,47.81 505.13,47.74 505.63,47.7 506.13,47.69 506.63,47.71 507.13,47.77 507.63,47.85 508.13,47.95 508.63,48.08 509.13,48.23 509.63,48.41 510.13,48.6 510.63,48.81 511.13,49.04 511.63,49.28 512.13,49.53 512.63,49.79 513.13,50.06 513.63,50.34 514.13,50.62 514.63,50.91 515.13,51.2 515.63,51.49 516.13,51.81 516.63,52.16 517.13,52.54 517.63,52.96 518.13,53.41 518.62,53.89 519.12,54.39 519.62,54.93 520.12,55.48 520.62,56.07 521.12,56.67 521.62,57.3 522.12,57.95 522.62,58.61 523.12,59.3 523.62,60 524.12,60.72 524.62,61.45 525.12,62.19 525.62,62.94 526.12,63.7 526.62,64.47 527.12,65.25 527.62,66.04 528.12,66.82 528.62,67.61 529.12,68.41 529.62,69.2 530.12,70 530.62,70.79 531.12,71.59 531.62,72.42 532.12,73.27 532.62,74.16 533.11,75.07 533.61,76.01 534.11,76.96 534.61,77.94 535.11,78.94 535.61,79.96 536.11,80.99 536.61,82.04 537.11,83.1 537.61,84.17 538.11,85.26 538.61,86.35 539.11,87.45 539.61,88.56 540.11,89.67 540.61,90.78 541.11,91.89 541.61,93.01 542.11,94.12 542.61,95.23 543.11,96.34 543.61,97.44 544.11,98.53 544.61,99.61 545.11,100.69 545.61,101.75 546.11,102.79 546.61,103.82 547.11,104.84 547.6,105.85 548.1,106.85 548.6,107.86 549.1,108.86 549.6,109.86 550.1,110.85 550.6,111.85 551.1,112.84 551.6,113.83 552.1,114.82 552.6,115.81 553.1,116.79 553.6,117.78 554.1,118.77 554.6,119.75 555.1,120.74 555.6,121.73 556.1,122.72 556.6,123.7 557.1,124.69 557.6,125.68 558.1,126.68 558.6,127.67 559.1,128.67 559.6,129.67 560.1,130.67 560.6,131.67 561.1,132.67 561.59,133.68 562.09,134.68 562.59,135.69 563.09,136.69 563.59,137.7 564.09,138.71 564.59,139.71 565.09,140.72 565.59,141.73 566.09,142.74 566.59,143.75 567.09,144.76 567.59,145.77 568.09,146.78 568.59,147.8 569.09,148.81 569.59,149.83 570.09,150.84 570.59,151.86 571.09,152.88 571.59,153.9 572.09,154.92 572.59,155.95 573.09,156.97 573.59,158 574.09,159.03 574.59,160.05 575.09,161.09 575.59,162.13 576.08,163.18 576.58,164.25 577.08,165.33 577.58,166.41 578.08,167.51 578.58,168.61 579.08,169.71 579.58,170.81 580.08,171.92 580.58,173.02 581.08,174.12 581.58,175.22 582.08,176.31 582.58,177.4 583.08,178.47 583.58,179.54 584.08,180.59 584.58,181.63 585.08,182.65 585.58,183.66 586.08,184.65 586.58,185.61 587.08,186.56 587.58,187.48 588.08,188.38 588.58,189.27 589.08,190.18 589.58,191.09 590.08,192 590.57,192.89 591.07,193.75 591.57,194.58 592.07,195.36 592.57,196.09 593.07,196.74 593.57,197.32 594.07,197.8 594.57,198.25 595.07,198.7 595.57,199.12 596.07,199.51 596.57,199.84 597.07,200.08 597.57,200.24 598.07,200.27 598.57,200.2 599.07,200.05 599.57,199.83 600.07,199.56 600.57,199.23 601.07,198.88 601.57,198.51 602.07,198.13 602.57,197.76 603.07,197.36 603.57,196.9 604.07,196.4 604.57,195.84 605.06,195.25 605.56,194.62 606.06,193.95 606.56,193.26 607.06,192.54 607.56,191.8 608.06,191.04 608.56,190.27 609.06,189.5 609.56,188.71 610.06,187.93 610.56,187.15 611.06,186.38 611.56,185.63 612.06,184.88 612.56,184.16 613.06,183.47 613.56,182.77 614.06,182.04 614.56,181.29 615.06,180.53 615.56,179.75 616.06,178.98 616.56,178.2 617.06,177.43 617.56,176.67 618.06,175.92 618.56,175.19 619.05,174.49 619.55,173.82 620.05,173.18 620.55,172.59 621.05,172.04 621.55,171.54 622.05,171.09 622.55,170.67 623.05,170.25 623.55,169.83 624.05,169.42 624.55,169.03 625.05,168.65 625.55,168.28 626.05,167.93 626.55,167.6 627.05,167.29 627.55,167 628.05,166.74 628.55,166.51 629.05,166.3 629.55,166.13 630.05,165.99 630.55,165.89 631.05,165.8 631.55,165.71 632.05,165.63 632.55,165.55 633.05,165.48 633.54,165.42 634.04,165.36 634.54,165.31 635.04,165.28 635.54,165.25 636.04,165.24 636.54,165.24 637.04,165.28 637.54,165.36 638.04,165.47 638.54,165.61 639.04,165.79 639.54,165.99 640.04,166.22 640.54,166.48 641.04,166.75 641.54,167.05 642.04,167.37 642.54,167.7 643.04,168.04 643.54,168.39 644.04,168.76 644.54,169.12 645.04,169.5 645.54,169.87 646.04,170.25 646.54,170.62 647.04,170.99 647.54,171.35 648.03,171.74 648.53,172.15 649.03,172.58 649.53,173.04 650.03,173.52 650.53,174.02 651.03,174.53 651.53,175.07 652.03,175.62 652.53,176.19 653.03,176.77 653.53,177.36 654.03,177.97 654.53,178.59 655.03,179.21 655.53,179.85 656.03,180.49 656.53,181.14 657.03,181.79 657.53,182.45 658.03,183.11 658.53,183.77 659.03,184.43 659.53,185.09 660.03,185.75 660.53,186.4 661.03,187.05 661.53,187.69 662.03,188.33 662.52,188.96 663.02,189.58 663.52,190.18 664.02,190.78 664.52,191.37 665.02,191.97 665.52,192.57 666.02,193.18 666.52,193.79 667.02,194.41 667.52,195.02 668.02,195.64 668.52,196.25 669.02,196.85 669.52,197.45 670.02,198.03 670.52,198.61 671.02,199.17 671.52,199.72 672.02,200.25 672.52,200.76 673.02,201.26 673.52,201.75 674.02,202.24 674.52,202.73 675.02,203.2 675.52,203.67 676.02,204.13 676.51,204.57 677.01,205 677.51,205.41 678.01,205.8 678.51,206.17 679.01,206.51 679.51,206.84 680.01,207.17 680.51,207.51 681.01,207.85 681.51,208.18 682.01,208.49 682.51,208.76 683.01,208.98 683.51,209.14 684.01,209.23 684.51,209.25 685.01,209.25 685.51,209.25 686.01,209.25 686.51,209.25 687.01,209.25 687.51,209.25 688.01,209.25 688.51,209.25 689.01,209.23 689.51,209.1 690.01,208.87 690.51,208.57 691,208.22 691.5,207.84 692,207.45 692.5,207.07 693,206.72 693.5,206.39 694,206.05 694.5,205.7 695,205.34 695.5,204.97 696,204.59 696.5,204.21 697,203.81 697.5,203.41 698,203" fill="none" stroke="#1e1e1e" stroke-width="1.4" stroke-linejoin="round"/>
<polyline points="410.7,196.56 411.2,196.4 411.7,196.25 412.2,196.1 412.7,195.94 413.2,195.79 413.7,195.64 414.2,195.5 414.7,195.35 415.2,195.2 415.7,195.06 416.2,194.91 416.7,194.77 417.2,194.63 417.7,194.49 418.19,194.35 418.69,194.21 419.19,194.07 419.69,193.94 420.19,193.8 420.69,193.67 421.19,193.54 421.69,193.41 422.19,193.28 422.69,193.15 423.19,193.03 423.69,192.9 424.19,192.78 424.69,192.65 425.19,192.53 425.69,192.4 426.19,192.27 426.69,192.15 427.19,192.02 427.69,191.89 428.19,191.77 428.69,191.65 429.19,191.54 429.69,191.43 430.19,191.32 430.69,191.21 431.19,191.11 431.69,190.99 432.19,190.88 432.68,190.76 433.18,190.64 433.68,190.51 434.18,190.37 434.68,190.22 435.18,190.06 435.68,189.89 436.18,189.7 436.68,189.49 437.18,189.26 437.68,189.01 438.18,188.73 438.68,188.43 439.18,188.11 439.68,187.78 440.18,187.42 440.68,187.04 441.18,186.64 441.68,186.23 442.18,185.79 442.68,185.34 443.18,184.87 443.68,184.39 444.18,183.89 444.68,183.37 445.18,182.81 445.68,182.18 446.18,181.5 446.67,180.77 447.17,179.99 447.67,179.17 448.17,178.31 448.67,177.41 449.17,176.48 449.67,175.52 450.17,174.53 450.67,173.52 451.17,172.48 451.67,171.44 452.17,170.38 452.67,169.3 453.17,168.22 453.67,167.09 454.17,165.91 454.67,164.68 455.17,163.4 455.67,162.08 456.17,160.72 456.67,159.33 457.17,157.91 457.67,156.46 458.17,154.99 458.67,153.5 459.17,151.99 459.67,150.48 460.17,148.95 460.67,147.43 461.16,145.9 461.66,144.37 462.16,142.82 462.66,141.25 463.16,139.65 463.66,138.04 464.16,136.4 464.66,134.74 465.16,133.07 465.66,131.38 466.16,129.67 466.66,127.95 467.16,126.22 467.66,124.47 468.16,122.71 468.66,120.95 469.16,119.17 469.66,117.39 470.16,115.59 470.66,113.74 471.16,111.83 471.66,109.88 472.16,107.9 472.66,105.89 473.16,103.87 473.66,101.85 474.16,99.83 474.66,97.83 475.16,95.85 475.65,93.9 476.15,91.99 476.65,90.14 477.15,88.35 477.65,86.63 478.15,84.99 478.65,83.41 479.15,81.86 479.65,80.31 480.15,78.78 480.65,77.27 481.15,75.79 481.65,74.33 482.15,72.89 482.65,71.48 483.15,70.11 483.65,68.77 484.15,67.47 484.65,66.21 485.15,65 485.65,63.83 486.15,62.71 486.65,61.64 487.15,60.62 487.65,59.66 488.15,58.74 488.65,57.82 489.15,56.92 489.65,56.05 490.14,55.2 490.64,54.37 491.14,53.57 491.64,52.81 492.14,52.09 492.64,51.4 493.14,50.75 493.64,50.16 494.14,49.61 494.64,49.11 495.14,48.67 495.64,48.26 496.14,47.85 496.64,47.45 497.14,47.05 497.64,46.66 498.14,46.28 498.64,45.91 499.14,45.55 499.64,45.2 500.14,44.87 500.64,44.56 501.14,44.26 501.64,43.99 502.14,43.74 502.64,43.51 503.14,43.31 503.64,43.13 504.13,42.99 504.63,42.88 505.13,42.79 505.63,42.75 506.13,42.74 506.63,42.77 507.13,42.83 507.63,42.94 508.13,43.07 508.63,43.24 509.13,43.43 509.63,43.65 510.13,43.9 510.63,44.16 511.13,44.45 511.63,44.75 512.13,45.06 512.63,45.39 513.13,45.73 513.63,46.07 514.13,46.42 514.63,46.78 515.13,47.13 515.63,47.48 516.13,47.87 516.63,48.28 517.13,48.73 517.63,49.22 518.13,49.73 518.62,50.28 519.12,50.86 519.62,51.46 520.12,52.09 520.62,52.74 521.12,53.42 521.62,54.12 522.12,54.84 522.62,55.58 523.12,56.34 523.62,57.11 524.12,57.9 524.62,58.71 525.12,59.52 525.62,60.35 526.12,61.19 526.62,62.03 527.12,62.88 527.62,63.74 528.12,64.6 528.62,65.46 529.12,66.33 529.62,67.19 530.12,68.06 530.62,68.92 531.12,69.79 531.62,70.68 532.12,71.61 532.62,72.56 533.11,73.53 533.61,74.53 534.11,75.54 534.61,76.58 535.11,77.64 535.61,78.71 536.11,79.8 536.61,80.9 537.11,82.01 537.61,83.14 538.11,84.27 538.61,85.41 539.11,86.56 539.61,87.72 540.11,88.88 540.61,90.04 541.11,91.21 541.61,92.37 542.11,93.53 542.61,94.69 543.11,95.84 543.61,96.99 544.11,98.13 544.61,99.26 545.11,100.38 545.61,101.49 546.11,102.59 546.61,103.67 547.11,104.73 547.6,105.79 548.1,106.85 548.6,107.91 549.1,108.96 549.6,110.01 550.1,111.05 550.6,112.1 551.1,113.14 551.6,114.18 552.1,115.22 552.6,116.26 553.1,117.3 553.6,118.33 554.1,119.37 554.6,120.4 555.1,121.44 555.6,122.47 556.1,123.51 556.6,124.55 557.1,125.58 557.6,126.62 558.1,127.66 558.6,128.7 559.1,129.74 559.6,130.78 560.1,131.83 560.6,132.88 561.1,133.92 561.59,134.96 562.09,136 562.59,137.03 563.09,138.07 563.59,139.1 564.09,140.14 564.59,141.17 565.09,142.2 565.59,143.23 566.09,144.27 566.59,145.3 567.09,146.33 567.59,147.37 568.09,148.41 568.59,149.45 569.09,150.5 569.59,151.55 570.09,152.6 570.59,153.65 571.09,154.71 571.59,155.78 572.09,156.85 572.59,157.92 573.09,159 573.59,160.09 574.09,161.19 574.59,162.29 575.09,163.4 575.59,164.53 576.08,165.68 576.58,166.86 577.08,168.06 577.58,169.28 578.08,170.51 578.58,171.75 579.08,173 579.58,174.26 580.08,175.52 580.58,176.78 581.08,178.04 581.58,179.3 582.08,180.55 582.58,181.79 583.08,183.01 583.58,184.22 584.08,185.41 584.58,186.58 585.08,187.73 585.58,188.85 586.08,189.94 586.58,191 587.08,192.02 587.58,193 588.08,193.95 588.58,194.87 589.08,195.81 589.58,196.74 590.08,197.66 590.57,198.57 591.07,199.44 591.57,200.26 592.07,201.04 592.57,201.75 593.07,202.38 593.57,202.93 594.07,203.37 594.57,203.77 595.07,204.17 595.57,204.54 596.07,204.88 596.57,205.16 597.07,205.37 597.57,205.5 598.07,205.53 598.57,205.46 599.07,205.31 599.57,205.09 600.07,204.8 600.57,204.46 601.07,204.08 601.57,203.67 602.07,203.25 602.57,202.81 603.07,202.38 603.57,201.95 604.07,201.48 604.57,200.96 605.06,200.38 605.56,199.77 606.06,199.11 606.56,198.42 607.06,197.7 607.56,196.96 608.06,196.19 608.56,195.41 609.06,194.62 609.56,193.83 610.06,193.03 610.56,192.23 611.06,191.45 611.56,190.68 612.06,189.92 612.56,189.19 613.06,188.49 613.56,187.82 614.06,187.15 614.56,186.47 615.06,185.79 615.56,185.1 616.06,184.41 616.56,183.73 617.06,183.05 617.56,182.37 618.06,181.72 618.56,181.07 619.05,180.45 619.55,179.85 620.05,179.27 620.55,178.72 621.05,178.21 621.55,177.72 622.05,177.28 622.55,176.85 623.05,176.43 623.55,176.02 624.05,175.61 624.55,175.21 625.05,174.83 625.55,174.46 626.05,174.1 626.55,173.76 627.05,173.43 627.55,173.12 628.05,172.84 628.55,172.57 629.05,172.33 629.55,172.11 630.05,171.92 630.55,171.75 631.05,171.59 631.55,171.43 632.05,171.28 632.55,171.13 633.05,170.99 633.54,170.87 634.04,170.75 634.54,170.66 635.04,170.58 635.54,170.53 636.04,170.5 636.54,170.5 637.04,170.54 637.54,170.61 638.04,170.72 638.54,170.86 639.04,171.04 639.54,171.23 640.04,171.46 640.54,171.71 641.04,171.97 641.54,172.26 642.04,172.56 642.54,172.88 643.04,173.2 643.54,173.54 644.04,173.88 644.54,174.23 645.04,174.58 645.54,174.93 646.04,175.28 646.54,175.62 647.04,175.96 647.54,176.29 648.03,176.63 648.53,176.99 649.03,177.37 649.53,177.76 650.03,178.16 650.53,178.58 651.03,179.01 651.53,179.45 652.03,179.9 652.53,180.37 653.03,180.84 653.53,181.32 654.03,181.81 654.53,182.31 655.03,182.81 655.53,183.32 656.03,183.83 656.53,184.35 657.03,184.87 657.53,185.39 658.03,185.92 658.53,186.45 659.03,186.97 659.53,187.5 660.03,188.02 660.53,188.54 661.03,189.06 661.53,189.57 662.03,190.08 662.52,190.59 663.02,191.08 663.52,191.57 664.02,192.06 664.52,192.53 665.02,193.01 665.52,193.5 666.02,193.99 666.52,194.47 667.02,194.97 667.52,195.46 668.02,195.96 668.52,196.45 669.02,196.95 669.52,197.45 670.02,197.95 670.52,198.45 671.02,198.94 671.52,199.44 672.02,199.94 672.52,200.43 673.02,200.92 673.52,201.41 674.02,201.9 674.52,202.38 675.02,202.87 675.52,203.34 676.02,203.82 676.51,204.28 677.01,204.75 677.51,205.21 678.01,205.66 678.51,206.11 679.01,206.55 679.51,206.99 680.01,207.41 680.51,207.83 681.01,208.25 681.51,208.66 682.01,209.06 682.51,209.47 683.01,209.87 683.51,210.27 684.01,210.66 684.51,211.05 685.01,211.43 685.51,211.81 686.01,212.18 686.51,212.54 687.01,212.89 687.51,213.23 688.01,213.56 688.51,213.88 689.01,214.19 689.51,214.48 690.01,214.77 690.51,215.05 691,215.32 691.5,215.59 692,215.85 692.5,216.11 693,216.36 693.5,216.61 694,216.85 694.5,217.08 695,217.3 695.5,217.52 696,217.73 696.5,217.93 697,218.12 697.5,218.3 698,218.47" fill="none" stroke="#cc2a35" stroke-width="1.4" stroke-linejoin="round"/>
<line x1="609" y1="20" x2="630.5" y2="20" stroke="#1e1e1e" stroke-width="1.3" />
<line x1="609" y1="32" x2="630.5" y2="32" stroke="#cc2a35" stroke-width="1.3" />
<text x="633.3" y="23.4" font-size="9.55" text-anchor="start" fill="#222" font-family='"Liberation Sans", sans-serif' font-weight="normal" >Experimental</text>
<text x="633.3" y="35.4" font-size="9.55" text-anchor="start" fill="#222" font-family='"Liberation Sans", sans-serif' font-weight="normal" >Fitted</text>
<text x="415" y="44.5" font-size="36.5" text-anchor="start" fill="#111" font-family='"Liberation Serif", serif' font-weight="bold" >(b)</text>
<rect x="30.4" y="283.75" width="286.1" height="213.05" fill="none" stroke="#555" stroke-width="1.2"/>
<line x1="26.7" y1="494.3" x2="30.4" y2="494.3" stroke="#555" stroke-width="1.1" />
<text x="21.6" y="497.2" font-size="8.3" text-anchor="middle" fill="#2a2a2a" font-family='"Liberation Sans", sans-serif' font-weight="normal" textLength="4.23" lengthAdjust="spacingAndGlyphs" stroke="#2a2a2a" stroke-width="0.2">0</text>
<line x1="28.2" y1="470.43" x2="30.4" y2="470.43" stroke="#555" stroke-width="1.1" />
<line x1="26.7" y1="446.55" x2="30.4" y2="446.55" stroke="#555" stroke-width="1.1" />
<text x="21.6" y="449.45" font-size="8.3" text-anchor="middle" fill="#2a2a2a" font-family='"Liberation Sans", sans-serif' font-weight="normal" textLength="4.23" lengthAdjust="spacingAndGlyphs" stroke="#2a2a2a" stroke-width="0.2">1</text>
<line x1="28.2" y1="422.68" x2="30.4" y2="422.68" stroke="#555" stroke-width="1.1" />
<line x1="26.7" y1="398.8" x2="30.4" y2="398.8" stroke="#555" stroke-width="1.1" />
<text x="21.6" y="401.7" font-size="8.3" text-anchor="middle" fill="#2a2a2a" font-family='"Liberation Sans", sans-serif' font-weight="normal" textLength="4.23" lengthAdjust="spacingAndGlyphs" stroke="#2a2a2a" stroke-width="0.2">2</text>
<line x1="28.2" y1="374.93" x2="30.4" y2="374.93" stroke="#555" stroke-width="1.1" />
<line x1="26.7" y1="351.05" x2="30.4" y2="351.05" stroke="#555" stroke-width="1.1" />
<text x="21.6" y="353.95" font-size="8.3" text-anchor="middle" fill="#2a2a2a" font-family='"Liberation Sans", sans-serif' font-weight="normal" textLength="4.23" lengthAdjust="spacingAndGlyphs" stroke="#2a2a2a" stroke-width="0.2">3</text>
<line x1="28.2" y1="327.18" x2="30.4" y2="327.18" stroke="#555" stroke-width="1.1" />
<line x1="26.7" y1="303.3" x2="30.4" y2="303.3" stroke="#555" stroke-width="1.1" />
<text x="21.6" y="306.2" font-size="8.3" text-anchor="middle" fill="#2a2a2a" font-family='"Liberation Sans", sans-serif' font-weight="normal" textLength="4.23" lengthAdjust="spacingAndGlyphs" stroke="#2a2a2a" stroke-width="0.2">4</text>
<line x1="30.4" y1="496.8" x2="30.4" y2="500.5" stroke="#555" stroke-width="1.1" />
<text x="30.4" y="509.8" font-size="8.3" text-anchor="middle" fill="#2a2a2a" font-family='"Liberation Sans", sans-serif' font-weight="normal" textLength="10.56" lengthAdjust="spacingAndGlyphs" stroke="#2a2a2a" stroke-width="0.2">2.0</text>
<line x1="48.28" y1="496.8" x2="48.28" y2="499" stroke="#555" stroke-width="1.1" />
<line x1="66.16" y1="496.8" x2="66.16" y2="500.5" stroke="#555" stroke-width="1.1" />
<text x="66.16" y="509.8" font-size="8.3" text-anchor="middle" fill="#2a2a2a" font-family='"Liberation Sans", sans-serif' font-weight="normal" textLength="10.56" lengthAdjust="spacingAndGlyphs" stroke="#2a2a2a" stroke-width="0.2">2.2</text>
<line x1="84.04" y1="496.8" x2="84.04" y2="499" stroke="#555" stroke-width="1.1" />
<line x1="101.92" y1="496.8" x2="101.92" y2="500.5" stroke="#555" stroke-width="1.1" />
<text x="101.92" y="509.8" font-size="8.3" text-anchor="middle" fill="#2a2a2a" font-family='"Liberation Sans", sans-serif' font-weight="normal" textLength="10.56" lengthAdjust="spacingAndGlyphs" stroke="#2a2a2a" stroke-width="0.2">2.4</text>
<line x1="119.8" y1="496.8" x2="119.8" y2="499" stroke="#555" stroke-width="1.1" />
<line x1="137.68" y1="496.8" x2="137.68" y2="500.5" stroke="#555" stroke-width="1.1" />
<text x="137.68" y="509.8" font-size="8.3" text-anchor="middle" fill="#2a2a2a" font-family='"Liberation Sans", sans-serif' font-weight="normal" textLength="10.56" lengthAdjust="spacingAndGlyphs" stroke="#2a2a2a" stroke-width="0.2">2.6</text>
<line x1="155.56" y1="496.8" x2="155.56" y2="499" stroke="#555" stroke-width="1.1" />
<line x1="173.44" y1="496.8" x2="173.44" y2="500.5" stroke="#555" stroke-width="1.1" />
<text x="173.44" y="509.8" font-size="8.3" text-anchor="middle" fill="#2a2a2a" font-family='"Liberation Sans", sans-serif' font-weight="normal" textLength="10.56" lengthAdjust="spacingAndGlyphs" stroke="#2a2a2a" stroke-width="0.2">2.8</text>
<line x1="191.32" y1="496.8" x2="191.32" y2="499" stroke="#555" stroke-width="1.1" />
<line x1="209.2" y1="496.8" x2="209.2" y2="500.5" stroke="#555" stroke-width="1.1" />
<text x="209.2" y="509.8" font-size="8.3" text-anchor="middle" fill="#2a2a2a" font-family='"Liberation Sans", sans-serif' font-weight="normal" textLength="10.56" lengthAdjust="spacingAndGlyphs" stroke="#2a2a2a" stroke-width="0.2">3.0</text>
<line x1="227.08" y1="496.8" x2="227.08" y2="499" stroke="#555" stroke-width="1.1" />
<line x1="244.96" y1="496.8" x2="244.96" y2="500.5" stroke="#555" stroke-width="1.1" />
<text x="244.96" y="509.8" font-size="8.3" text-anchor="middle" fill="#2a2a2a" font-family='"Liberation Sans", sans-serif' font-weight="normal" textLength="10.56" lengthAdjust="spacingAndGlyphs" stroke="#2a2a2a" stroke-width="0.2">3.2</text>
<line x1="262.84" y1="496.8" x2="262.84" y2="499" stroke="#555" stroke-width="1.1" />
<line x1="280.72" y1="496.8" x2="280.72" y2="500.5" stroke="#555" stroke-width="1.1" />
<text x="280.72" y="509.8" font-size="8.3" text-anchor="middle" fill="#2a2a2a" font-family='"Liberation Sans", sans-serif' font-weight="normal" textLength="10.56" lengthAdjust="spacingAndGlyphs" stroke="#2a2a2a" stroke-width="0.2">3.4</text>
<line x1="298.6" y1="496.8" x2="298.6" y2="499" stroke="#555" stroke-width="1.1" />
<line x1="316.48" y1="496.8" x2="316.48" y2="500.5" stroke="#555" stroke-width="1.1" />
<text x="316.48" y="509.8" font-size="8.3" text-anchor="middle" fill="#2a2a2a" font-family='"Liberation Sans", sans-serif' font-weight="normal" textLength="10.56" lengthAdjust="spacingAndGlyphs" stroke="#2a2a2a" stroke-width="0.2">3.6</text>
<text x="172.4" y="522.3" font-size="9.65" text-anchor="middle" fill="#222" font-family='"Liberation Sans", sans-serif' font-weight="normal" >Radial Distance, &#197;</text>
<text transform="translate(12.8,400) rotate(-90)" x="0" y="0" font-size="11" text-anchor="middle" fill="#222" font-family='"Liberation Sans", sans-serif'>|&#967;(R)| (&#197;<tspan dy="-4.3" font-size="7">-4</tspan><tspan dy="4.3">)</tspan></text>
<polyline points="30.4,487.12 30.9,487.41 31.4,487.68 31.9,487.95 32.4,488.2 32.9,488.45 33.4,488.69 33.89,488.91 34.39,489.12 34.89,489.33 35.39,489.52 35.89,489.7 36.39,489.86 36.89,490.01 37.39,490.15 37.89,490.28 38.39,490.39 38.89,490.49 39.39,490.57 39.89,490.64 40.39,490.7 40.88,490.74 41.38,490.77 41.88,490.78 42.38,490.78 42.88,490.76 43.38,490.74 43.88,490.7 44.38,490.64 44.88,490.57 45.38,490.49 45.88,490.4 46.38,490.29 46.88,490.17 47.38,490.04 47.87,489.89 48.37,489.73 48.87,489.56 49.37,489.39 49.87,489.2 50.37,489 50.87,488.8 51.37,488.59 51.87,488.37 52.37,488.15 52.87,487.93 53.37,487.7 53.87,487.47 54.36,487.24 54.86,487 55.36,486.77 55.86,486.53 56.36,486.3 56.86,486.07 57.36,485.84 57.86,485.62 58.36,485.4 58.86,485.19 59.36,484.98 59.86,484.78 60.36,484.59 60.86,484.4 61.35,484.22 61.85,484.05 62.35,483.89 62.85,483.72 63.35,483.57 63.85,483.41 64.35,483.26 64.85,483.11 65.35,482.96 65.85,482.81 66.35,482.66 66.85,482.51 67.35,482.36 67.85,482.21 68.34,482.06 68.84,481.9 69.34,481.73 69.84,481.56 70.34,481.39 70.84,481.21 71.34,481.02 71.84,480.83 72.34,480.62 72.84,480.41 73.34,480.18 73.84,479.95 74.34,479.71 74.83,479.45 75.33,479.18 75.83,478.9 76.33,478.6 76.83,478.29 77.33,477.96 77.83,477.62 78.33,477.26 78.83,476.88 79.33,476.48 79.83,476.07 80.33,475.64 80.83,475.19 81.33,474.72 81.82,474.24 82.32,473.74 82.82,473.23 83.32,472.7 83.82,472.16 84.32,471.61 84.82,471.04 85.32,470.46 85.82,469.87 86.32,469.27 86.82,468.66 87.32,468.03 87.82,467.4 88.31,466.76 88.81,466.11 89.31,465.46 89.81,464.8 90.31,464.13 90.81,463.45 91.31,462.77 91.81,462.09 92.31,461.4 92.81,460.71 93.31,460.01 93.81,459.31 94.31,458.61 94.81,457.91 95.3,457.21 95.8,456.5 96.3,455.8 96.8,455.1 97.3,454.4 97.8,453.7 98.3,453.01 98.8,452.32 99.3,451.63 99.8,450.94 100.3,450.26 100.8,449.57 101.3,448.89 101.8,448.22 102.29,447.54 102.79,446.87 103.29,446.19 103.79,445.52 104.29,444.85 104.79,444.18 105.29,443.51 105.79,442.85 106.29,442.18 106.79,441.51 107.29,440.85 107.79,440.18 108.29,439.51 108.78,438.84 109.28,438.17 109.78,437.51 110.28,436.84 110.78,436.16 111.28,435.49 111.78,434.82 112.28,434.14 112.78,433.46 113.28,432.79 113.78,432.1 114.28,431.42 114.78,430.73 115.28,430.04 115.77,429.35 116.27,428.66 116.77,427.96 117.27,427.26 117.77,426.55 118.27,425.85 118.77,425.13 119.27,424.42 119.77,423.7 120.27,422.97 120.77,422.24 121.27,421.51 121.77,420.77 122.27,420.02 122.76,419.27 123.26,418.52 123.76,417.76 124.26,416.99 124.76,416.22 125.26,415.44 125.76,414.65 126.26,413.86 126.76,413.06 127.26,412.26 127.76,411.45 128.26,410.63 128.76,409.8 129.25,408.97 129.75,408.12 130.25,407.27 130.75,406.42 131.25,405.55 131.75,404.68 132.25,403.79 132.75,402.9 133.25,402 133.75,401.09 134.25,400.17 134.75,399.25 135.25,398.31 135.75,397.36 136.24,396.41 136.74,395.45 137.24,394.48 137.74,393.5 138.24,392.52 138.74,391.54 139.24,390.55 139.74,389.55 140.24,388.55 140.74,387.55 141.24,386.54 141.74,385.53 142.24,384.52 142.74,383.51 143.23,382.5 143.73,381.49 144.23,380.47 144.73,379.46 145.23,378.45 145.73,377.45 146.23,376.44 146.73,375.44 147.23,374.44 147.73,373.44 148.23,372.45 148.73,371.46 149.23,370.48 149.72,369.51 150.22,368.54 150.72,367.58 151.22,366.63 151.72,365.68 152.22,364.75 152.72,363.82 153.22,362.9 153.72,361.99 154.22,361.1 154.72,360.21 155.22,359.34 155.72,358.47 156.22,357.63 156.71,356.79 157.21,355.97 157.71,355.16 158.21,354.36 158.71,353.57 159.21,352.8 159.71,352.03 160.21,351.27 160.71,350.53 161.21,349.79 161.71,349.06 162.21,348.34 162.71,347.63 163.21,346.92 163.7,346.22 164.2,345.53 164.7,344.84 165.2,344.16 165.7,343.48 166.2,342.8 166.7,342.13 167.2,341.46 167.7,340.8 168.2,340.13 168.7,339.47 169.2,338.81 169.7,338.14 170.19,337.48 170.69,336.82 171.19,336.16 171.69,335.5 172.19,334.84 172.69,334.18 173.19,333.53 173.69,332.88 174.19,332.24 174.69,331.6 175.19,330.97 175.69,330.34 176.19,329.73 176.69,329.12 177.18,328.52 177.68,327.93 178.18,327.34 178.68,326.78 179.18,326.22 179.68,325.67 180.18,325.14 180.68,324.62 181.18,324.12 181.68,323.63 182.18,323.16 182.68,322.7 183.18,322.26 183.67,321.84 184.17,321.44 184.67,321.06 185.17,320.7 185.67,320.36 186.17,320.04 186.67,319.74 187.17,319.47 187.67,319.22 188.17,318.99 188.67,318.79 189.17,318.62 189.67,318.47 190.17,318.35 190.66,318.26 191.16,318.19 191.66,318.16 192.16,318.15 192.66,318.18 193.16,318.24 193.66,318.33 194.16,318.45 194.66,318.61 195.16,318.79 195.66,319.01 196.16,319.26 196.66,319.54 197.16,319.85 197.65,320.18 198.15,320.55 198.65,320.94 199.15,321.35 199.65,321.79 200.15,322.26 200.65,322.75 201.15,323.26 201.65,323.8 202.15,324.36 202.65,324.93 203.15,325.53 203.65,326.15 204.14,326.79 204.64,327.44 205.14,328.11 205.64,328.8 206.14,329.51 206.64,330.23 207.14,330.96 207.64,331.71 208.14,332.47 208.64,333.24 209.14,334.02 209.64,334.82 210.14,335.62 210.64,336.44 211.13,337.27 211.63,338.11 212.13,338.96 212.63,339.82 213.13,340.69 213.63,341.57 214.13,342.47 214.63,343.37 215.13,344.28 215.63,345.2 216.13,346.14 216.63,347.08 217.13,348.03 217.63,348.99 218.12,349.97 218.62,350.95 219.12,351.94 219.62,352.94 220.12,353.95 220.62,354.96 221.12,355.99 221.62,357.02 222.12,358.07 222.62,359.12 223.12,360.18 223.62,361.25 224.12,362.33 224.61,363.41 225.11,364.51 225.61,365.61 226.11,366.73 226.61,367.85 227.11,368.99 227.61,370.14 228.11,371.3 228.61,372.48 229.11,373.67 229.61,374.87 230.11,376.09 230.61,377.33 231.11,378.59 231.6,379.86 232.1,381.15 232.6,382.45 233.1,383.78 233.6,385.11 234.1,386.47 234.6,387.83 235.1,389.21 235.6,390.6 236.1,392.01 236.6,393.42 237.1,394.84 237.6,396.27 238.1,397.71 238.59,399.16 239.09,400.61 239.59,402.07 240.09,403.53 240.59,405 241.09,406.46 241.59,407.92 242.09,409.38 242.59,410.83 243.09,412.28 243.59,413.72 244.09,415.14 244.59,416.56 245.08,417.96 245.58,419.34 246.08,420.71 246.58,422.06 247.08,423.38 247.58,424.69 248.08,425.97 248.58,427.22 249.08,428.45 249.58,429.64 250.08,430.82 250.58,431.97 251.08,433.1 251.58,434.21 252.07,435.31 252.57,436.38 253.07,437.45 253.57,438.5 254.07,439.54 254.57,440.57 255.07,441.6 255.57,442.62 256.07,443.64 256.57,444.65 257.07,445.67 257.57,446.69 258.07,447.71 258.57,448.74 259.06,449.77 259.56,450.8 260.06,451.84 260.56,452.88 261.06,453.92 261.56,454.96 262.06,455.99 262.56,457.02 263.06,458.05 263.56,459.07 264.06,460.08 264.56,461.08 265.06,462.07 265.55,463.04 266.05,464 266.55,464.95 267.05,465.88 267.55,466.8 268.05,467.69 268.55,468.57 269.05,469.42 269.55,470.25 270.05,471.05 270.55,471.83 271.05,472.59 271.55,473.31 272.05,474 272.54,474.67 273.04,475.3 273.54,475.9 274.04,476.48 274.54,477.03 275.04,477.54 275.54,478.04 276.04,478.51 276.54,478.95 277.04,479.37 277.54,479.77 278.04,480.15 278.54,480.51 279.03,480.84 279.53,481.16 280.03,481.46 280.53,481.75 281.03,482.02 281.53,482.27 282.03,482.51 282.53,482.74 283.03,482.95 283.53,483.15 284.03,483.34 284.53,483.53 285.03,483.7 285.53,483.87 286.02,484.03 286.52,484.18 287.02,484.33 287.52,484.48 288.02,484.62 288.52,484.75 289.02,484.89 289.52,485.01 290.02,485.14 290.52,485.26 291.02,485.38 291.52,485.49 292.02,485.6 292.52,485.71 293.01,485.81 293.51,485.91 294.01,486.01 294.51,486.11 295.01,486.2 295.51,486.29 296.01,486.37 296.51,486.46 297.01,486.54 297.51,486.62 298.01,486.69 298.51,486.77 299.01,486.84 299.5,486.91 300,486.98 300.5,487.05 301,487.11 301.5,487.17 302,487.24 302.5,487.3 303,487.36 303.5,487.42 304,487.47 304.5,487.53 305,487.58 305.5,487.64 306,487.69 306.49,487.75 306.99,487.8 307.49,487.85 307.99,487.9 308.49,487.95 308.99,488.01 309.49,488.06 309.99,488.11 310.49,488.16 310.99,488.21 311.49,488.27 311.99,488.32 312.49,488.37 312.99,488.43 313.48,488.48 313.98,488.54 314.48,488.59 314.98,488.65 315.48,488.71 315.98,488.77 316.48,488.83" fill="none" stroke="#1e1e1e" stroke-width="1.4" stroke-linejoin="round"/>
<polyline points="30.4,492.81 30.9,492.84 31.4,492.86 31.9,492.86 32.4,492.84 32.9,492.8 33.4,492.76 33.89,492.69 34.39,492.62 34.89,492.53 35.39,492.43 35.89,492.32 36.39,492.2 36.89,492.07 37.39,491.93 37.89,491.79 38.39,491.63 38.89,491.47 39.39,491.31 39.89,491.13 40.39,490.96 40.88,490.78 41.38,490.59 41.88,490.41 42.38,490.22 42.88,490.03 43.38,489.84 43.88,489.65 44.38,489.46 44.88,489.27 45.38,489.09 45.88,488.91 46.38,488.73 46.88,488.56 47.38,488.39 47.87,488.22 48.37,488.07 48.87,487.91 49.37,487.76 49.87,487.62 50.37,487.48 50.87,487.34 51.37,487.2 51.87,487.07 52.37,486.94 52.87,486.81 53.37,486.69 53.87,486.56 54.36,486.44 54.86,486.32 55.36,486.2 55.86,486.08 56.36,485.96 56.86,485.84 57.36,485.72 57.86,485.6 58.36,485.48 58.86,485.35 59.36,485.23 59.86,485.1 60.36,484.97 60.86,484.84 61.35,484.71 61.85,484.57 62.35,484.43 62.85,484.29 63.35,484.14 63.85,483.99 64.35,483.83 64.85,483.67 65.35,483.51 65.85,483.34 66.35,483.16 66.85,482.98 67.35,482.79 67.85,482.59 68.34,482.39 68.84,482.18 69.34,481.96 69.84,481.74 70.34,481.51 70.84,481.27 71.34,481.02 71.84,480.76 72.34,480.49 72.84,480.22 73.34,479.93 73.84,479.63 74.34,479.33 74.83,479.01 75.33,478.68 75.83,478.34 76.33,477.99 76.83,477.63 77.33,477.25 77.83,476.87 78.33,476.47 78.83,476.05 79.33,475.63 79.83,475.19 80.33,474.74 80.83,474.27 81.33,473.8 81.82,473.31 82.32,472.81 82.82,472.3 83.32,471.77 83.82,471.24 84.32,470.69 84.82,470.14 85.32,469.58 85.82,469 86.32,468.42 86.82,467.83 87.32,467.23 87.82,466.62 88.31,466 88.81,465.38 89.31,464.74 89.81,464.1 90.31,463.46 90.81,462.81 91.31,462.15 91.81,461.48 92.31,460.81 92.81,460.14 93.31,459.46 93.81,458.77 94.31,458.08 94.81,457.39 95.3,456.69 95.8,455.99 96.3,455.29 96.8,454.58 97.3,453.88 97.8,453.17 98.3,452.45 98.8,451.74 99.3,451.02 99.8,450.31 100.3,449.59 100.8,448.87 101.3,448.16 101.8,447.44 102.29,446.72 102.79,446.01 103.29,445.29 103.79,444.58 104.29,443.87 104.79,443.16 105.29,442.46 105.79,441.75 106.29,441.05 106.79,440.36 107.29,439.66 107.79,438.97 108.29,438.29 108.78,437.61 109.28,436.93 109.78,436.25 110.28,435.58 110.78,434.91 111.28,434.24 111.78,433.58 112.28,432.91 112.78,432.25 113.28,431.58 113.78,430.92 114.28,430.25 114.78,429.59 115.28,428.92 115.77,428.25 116.27,427.58 116.77,426.91 117.27,426.23 117.77,425.56 118.27,424.87 118.77,424.19 119.27,423.5 119.77,422.8 120.27,422.1 120.77,421.4 121.27,420.68 121.77,419.97 122.27,419.24 122.76,418.51 123.26,417.77 123.76,417.03 124.26,416.27 124.76,415.51 125.26,414.74 125.76,413.96 126.26,413.17 126.76,412.37 127.26,411.56 127.76,410.73 128.26,409.9 128.76,409.06 129.25,408.21 129.75,407.36 130.25,406.49 130.75,405.61 131.25,404.73 131.75,403.84 132.25,402.94 132.75,402.04 133.25,401.13 133.75,400.21 134.25,399.29 134.75,398.36 135.25,397.43 135.75,396.49 136.24,395.55 136.74,394.61 137.24,393.66 137.74,392.7 138.24,391.75 138.74,390.79 139.24,389.83 139.74,388.87 140.24,387.9 140.74,386.94 141.24,385.97 141.74,385 142.24,384.04 142.74,383.07 143.23,382.1 143.73,381.13 144.23,380.17 144.73,379.2 145.23,378.24 145.73,377.28 146.23,376.32 146.73,375.37 147.23,374.42 147.73,373.47 148.23,372.52 148.73,371.58 149.23,370.65 149.72,369.72 150.22,368.79 150.72,367.87 151.22,366.95 151.72,366.04 152.22,365.14 152.72,364.25 153.22,363.36 153.72,362.48 154.22,361.6 154.72,360.74 155.22,359.88 155.72,359.03 156.22,358.2 156.71,357.37 157.21,356.55 157.71,355.74 158.21,354.94 158.71,354.15 159.21,353.36 159.71,352.59 160.21,351.83 160.71,351.07 161.21,350.33 161.71,349.59 162.21,348.87 162.71,348.15 163.21,347.44 163.7,346.74 164.2,346.05 164.7,345.37 165.2,344.69 165.7,344.03 166.2,343.37 166.7,342.73 167.2,342.09 167.7,341.46 168.2,340.84 168.7,340.22 169.2,339.62 169.7,339.02 170.19,338.43 170.69,337.85 171.19,337.28 171.69,336.71 172.19,336.16 172.69,335.61 173.19,335.07 173.69,334.54 174.19,334.02 174.69,333.5 175.19,332.99 175.69,332.49 176.19,332 176.69,331.51 177.18,331.03 177.68,330.56 178.18,330.1 178.68,329.65 179.18,329.2 179.68,328.76 180.18,328.32 180.68,327.9 181.18,327.48 181.68,327.07 182.18,326.67 182.68,326.29 183.18,325.91 183.67,325.54 184.17,325.19 184.67,324.85 185.17,324.52 185.67,324.21 186.17,323.91 186.67,323.63 187.17,323.37 187.67,323.12 188.17,322.89 188.67,322.68 189.17,322.49 189.67,322.32 190.17,322.17 190.66,322.04 191.16,321.94 191.66,321.85 192.16,321.79 192.66,321.76 193.16,321.75 193.66,321.77 194.16,321.81 194.66,321.88 195.16,321.98 195.66,322.1 196.16,322.25 196.66,322.42 197.16,322.62 197.65,322.85 198.15,323.1 198.65,323.37 199.15,323.67 199.65,323.99 200.15,324.34 200.65,324.71 201.15,325.1 201.65,325.51 202.15,325.95 202.65,326.41 203.15,326.89 203.65,327.39 204.14,327.91 204.64,328.45 205.14,329.02 205.64,329.6 206.14,330.2 206.64,330.82 207.14,331.47 207.64,332.12 208.14,332.8 208.64,333.5 209.14,334.21 209.64,334.94 210.14,335.69 210.64,336.46 211.13,337.24 211.63,338.04 212.13,338.85 212.63,339.68 213.13,340.52 213.63,341.38 214.13,342.26 214.63,343.14 215.13,344.05 215.63,344.96 216.13,345.89 216.63,346.83 217.13,347.79 217.63,348.76 218.12,349.73 218.62,350.72 219.12,351.73 219.62,352.74 220.12,353.76 220.62,354.8 221.12,355.84 221.62,356.9 222.12,357.96 222.62,359.04 223.12,360.12 223.62,361.21 224.12,362.31 224.61,363.41 225.11,364.53 225.61,365.65 226.11,366.79 226.61,367.93 227.11,369.08 227.61,370.24 228.11,371.41 228.61,372.59 229.11,373.77 229.61,374.97 230.11,376.18 230.61,377.4 231.11,378.63 231.6,379.87 232.1,381.13 232.6,382.39 233.1,383.66 233.6,384.95 234.1,386.25 234.6,387.56 235.1,388.88 235.6,390.22 236.1,391.56 236.6,392.92 237.1,394.3 237.6,395.68 238.1,397.08 238.59,398.5 239.09,399.92 239.59,401.36 240.09,402.81 240.59,404.27 241.09,405.74 241.59,407.21 242.09,408.69 242.59,410.16 243.09,411.63 243.59,413.09 244.09,414.55 244.59,416 245.08,417.44 245.58,418.86 246.08,420.27 246.58,421.65 247.08,423.02 247.58,424.37 248.08,425.68 248.58,426.97 249.08,428.23 249.58,429.47 250.08,430.67 250.58,431.85 251.08,433.01 251.58,434.15 252.07,435.27 252.57,436.37 253.07,437.46 253.57,438.53 254.07,439.59 254.57,440.64 255.07,441.69 255.57,442.73 256.07,443.76 256.57,444.79 257.07,445.83 257.57,446.86 258.07,447.9 258.57,448.94 259.06,449.99 259.56,451.04 260.06,452.09 260.56,453.13 261.06,454.16 261.56,455.17 262.06,456.17 262.56,457.15 263.06,458.11 263.56,459.05 264.06,459.95 264.56,460.82 265.06,461.66 265.55,462.45 266.05,463.21 266.55,463.91 267.05,464.57 267.55,465.18 268.05,465.74 268.55,466.26 269.05,466.74 269.55,467.17 270.05,467.56 270.55,467.92 271.05,468.25 271.55,468.54 272.05,468.81 272.54,469.04 273.04,469.25 273.54,469.44 274.04,469.6 274.54,469.75 275.04,469.88 275.54,470 276.04,470.1 276.54,470.19 277.04,470.27 277.54,470.33 278.04,470.39 278.54,470.44 279.03,470.47 279.53,470.5 280.03,470.52 280.53,470.54 281.03,470.54 281.53,470.55 282.03,470.54 282.53,470.53 283.03,470.52 283.53,470.5 284.03,470.48 284.53,470.46 285.03,470.44 285.53,470.41 286.02,470.39 286.52,470.36 287.02,470.34 287.52,470.32 288.02,470.3 288.52,470.29 289.02,470.28 289.52,470.27 290.02,470.27 290.52,470.27 291.02,470.28 291.52,470.3 292.02,470.32 292.52,470.35 293.01,470.39 293.51,470.44 294.01,470.51 294.51,470.58 295.01,470.66 295.51,470.76 296.01,470.86 296.51,470.99 297.01,471.12 297.51,471.27 298.01,471.44 298.51,471.62 299.01,471.82 299.5,472.04 300,472.27 300.5,472.52 301,472.79 301.5,473.08 302,473.4 302.5,473.73 303,474.08 303.5,474.45 304,474.83 304.5,475.22 305,475.61 305.5,476.01 306,476.42 306.49,476.82 306.99,477.21 307.49,477.6 307.99,477.99 308.49,478.35 308.99,478.71 309.49,479.04 309.99,479.35 310.49,479.64 310.99,479.9 311.49,480.14 311.99,480.34 312.49,480.5 312.99,480.63 313.48,480.72 313.98,480.76 314.48,480.76 314.98,480.71 315.48,480.61 315.98,480.45 316.48,480.23" fill="none" stroke="#cc2a35" stroke-width="1.4" stroke-linejoin="round"/>
<line x1="229.5" y1="298" x2="249.5" y2="298" stroke="#1e1e1e" stroke-width="1.3" />
<line x1="229.5" y1="310" x2="249.5" y2="310" stroke="#cc2a35" stroke-width="1.3" />
<text x="252.8" y="301.5" font-size="9.6" text-anchor="start" fill="#222" font-family='"Liberation Sans", sans-serif' font-weight="normal" >Experimental</text>
<text x="252.8" y="313.5" font-size="9.6" text-anchor="start" fill="#222" font-family='"Liberation Sans", sans-serif' font-weight="normal" >Fitted</text>
<text x="45" y="323.5" font-size="36.5" text-anchor="start" fill="#111" font-family='"Liberation Serif", serif' font-weight="bold" >(c)</text>
<line x1="454.9" y1="350.3" x2="543.7" y2="319.8" stroke="#9a9a9a" stroke-width="1.0" />
<line x1="543.7" y1="319.8" x2="682.8" y2="323.6" stroke="#9a9a9a" stroke-width="1.0" />
<line x1="682.8" y1="323.6" x2="594.1" y2="354.2" stroke="#9a9a9a" stroke-width="1.0" />
<line x1="594.1" y1="354.2" x2="454.9" y2="350.3" stroke="#9a9a9a" stroke-width="1.0" />
<line x1="456" y1="433.6" x2="544.8" y2="402.7" stroke="#9a9a9a" stroke-width="1.0" />
<line x1="544.8" y1="402.7" x2="683.7" y2="406.4" stroke="#9a9a9a" stroke-width="1.0" />
<line x1="683.7" y1="406.4" x2="595" y2="437.4" stroke="#9a9a9a" stroke-width="1.0" />
<line x1="595" y1="437.4" x2="456" y2="433.6" stroke="#9a9a9a" stroke-width="1.0" />
<line x1="454.9" y1="350.3" x2="456" y2="433.6" stroke="#9a9a9a" stroke-width="1.0" />
<line x1="543.7" y1="319.8" x2="544.8" y2="402.7" stroke="#9a9a9a" stroke-width="1.0" />
<line x1="682.8" y1="323.6" x2="683.7" y2="406.4" stroke="#9a9a9a" stroke-width="1.0" />
<line x1="594.1" y1="354.2" x2="595" y2="437.4" stroke="#9a9a9a" stroke-width="1.0" />
<defs>
<radialGradient id="gb" cx="0.38" cy="0.35" r="0.7"><stop offset="0" stop-color="#a898ff"/><stop offset="0.35" stop-color="#4a2ee0"/><stop offset="1" stop-color="#1c0c80"/></radialGradient>
<radialGradient id="gr" cx="0.3" cy="0.38" r="0.8" fx="0.25" fy="0.35"><stop offset="0" stop-color="#fffbe8"/><stop offset="0.3" stop-color="#ffd0b0"/><stop offset="0.55" stop-color="#f04a28"/><stop offset="0.85" stop-color="#d81808"/><stop offset="1" stop-color="#b01000"/></radialGradient>
<marker id="ah" viewBox="0 0 10 10" refX="9" refY="5" markerWidth="7" markerHeight="7" orient="auto-start-reverse" markerUnits="userSpaceOnUse"><path d="M0,0 L10,5 L0,10 z" fill="#111"/></marker>
</defs>
<line x1="460.6" y1="355.2" x2="525" y2="384.1" stroke="#111" stroke-width="1.3" marker-start="url(#ah)" marker-end="url(#ah)"/>
<line x1="541" y1="384.6" x2="601.8" y2="377.8" stroke="#111" stroke-width="1.3" marker-start="url(#ah)" marker-end="url(#ah)"/>
<line x1="532.4" y1="393.2" x2="532.4" y2="460.5" stroke="#111" stroke-width="1.3" marker-start="url(#ah)" marker-end="url(#ah)"/>
<circle cx="454.9" cy="350.3" r="5.1" fill="url(#gb)"/>
<circle cx="543.7" cy="319.8" r="5.1" fill="url(#gb)"/>
<circle cx="682.8" cy="323.6" r="5.1" fill="url(#gb)"/>
<circle cx="594.1" cy="354.2" r="5.1" fill="url(#gb)"/>
<circle cx="456.0" cy="433.6" r="5.1" fill="url(#gb)"/>
<circle cx="544.8" cy="402.7" r="5.1" fill="url(#gb)"/>
<circle cx="683.7" cy="406.4" r="5.1" fill="url(#gb)"/>
<circle cx="595.0" cy="437.4" r="5.1" fill="url(#gb)"/>
<circle cx="607.0" cy="373.9" r="5.1" fill="url(#gb)"/>
<circle cx="532.6" cy="465.8" r="5.1" fill="url(#gb)"/>
<circle cx="608.7" cy="457.1" r="5.1" fill="url(#gb)"/>
<circle cx="531.7" cy="383.4" r="4.7" fill="url(#gr)"/>
<text x="487" y="387.4" font-size="12.0" text-anchor="middle" fill="#1a1a1a" font-family='"Liberation Sans", sans-serif' font-weight="normal" textLength="35.5" lengthAdjust="spacingAndGlyphs" stroke="#1a1a1a" stroke-width="0.3">3.287&#197;</text>
<text x="576.4" y="377.1" font-size="12.0" text-anchor="middle" fill="#1a1a1a" font-family='"Liberation Sans", sans-serif' font-weight="normal" textLength="35.2" lengthAdjust="spacingAndGlyphs" stroke="#1a1a1a" stroke-width="0.3">2.904&#197;</text>
<text x="538.2" y="438.8" font-size="12.0" text-anchor="start" fill="#1a1a1a" font-family='"Liberation Sans", sans-serif' font-weight="normal" textLength="31.8" lengthAdjust="spacingAndGlyphs" stroke="#1a1a1a" stroke-width="0.3">3. 08&#197;</text>
<path d="M429.4,455.5 L442.1,454.7 L442.1,468.3 L429.8,467.4 Z M442.1,454.7 L450.3,452.7 L450.7,465.4 L442.1,468.3 M429.4,455.5 L437.6,452.4 L450.3,452.7" fill="none" stroke="#777" stroke-width="0.9" stroke-linejoin="round"/>
<line x1="437.4" y1="443.6" x2="437.4" y2="452.6" stroke="#1a1aa0" stroke-width="1.2" />
<line x1="450.7" y1="465.4" x2="459.7" y2="465.5" stroke="#30b040" stroke-width="1.2" />
<line x1="423.2" y1="469.9" x2="429.8" y2="467.4" stroke="#b02030" stroke-width="1.2" />
<text x="438.4" y="442" font-size="10.5" text-anchor="middle" fill="#222" font-family='"Liberation Serif", serif' font-weight="normal" >c</text>
<text x="421.2" y="473.5" font-size="10.5" text-anchor="middle" fill="#222" font-family='"Liberation Serif", serif' font-weight="normal" >a</text>
<text x="464.5" y="469.6" font-size="10.5" text-anchor="middle" fill="#222" font-family='"Liberation Serif", serif' font-weight="normal" >b</text>
<text x="415" y="312.1" font-size="36.5" text-anchor="start" fill="#111" font-family='"Liberation Serif", serif' font-weight="bold" >(d)</text>
</svg>
</body></html>
